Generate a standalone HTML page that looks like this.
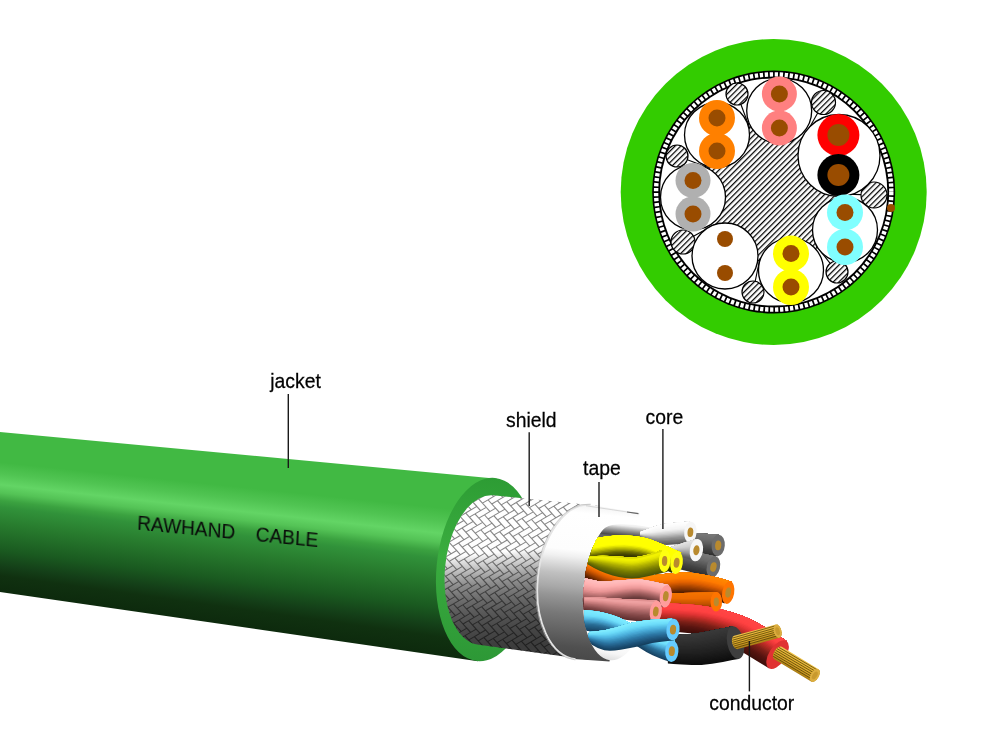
<!DOCTYPE html>
<html lang="en"><head><meta charset="utf-8"><title>RAWHAND CABLE</title>
<style>html,body{margin:0;padding:0;background:#fff;}body{width:1000px;height:750px;overflow:hidden;}svg{display:block;}</style>
</head><body>
<svg width="1000" height="750" viewBox="0 0 1000 750">
<defs>
<pattern id="hatch" width="4" height="4" patternUnits="userSpaceOnUse" patternTransform="rotate(-45)"><rect width="4" height="4" fill="#fff"/><rect width="4" height="1.25" fill="#000"/></pattern>
<clipPath id="jclip"><polygon points="0,432 497,478.67 478,661.17 0,592"/></clipPath>
<linearGradient id="jg0"><stop offset="0" stop-color="#41b943"/><stop offset="0.19" stop-color="#41b943"/><stop offset="0.26" stop-color="#50c452"/><stop offset="0.33" stop-color="#63d565"/><stop offset="0.38" stop-color="#54c356"/><stop offset="0.43" stop-color="#3ba240"/><stop offset="0.47" stop-color="#31923a"/><stop offset="0.575" stop-color="#287c2e"/><stop offset="0.74" stop-color="#1a5a20"/><stop offset="0.84" stop-color="#143f18"/><stop offset="0.9" stop-color="#103110"/><stop offset="1" stop-color="#0d2a0d"/></linearGradient>
<linearGradient id="jg1" href="#jg0" gradientUnits="userSpaceOnUse" x1="5" y1="432.47" x2="-13.9" y2="589.99"/>
<linearGradient id="jg2" href="#jg0" gradientUnits="userSpaceOnUse" x1="15" y1="433.41" x2="-3.96" y2="591.43"/>
<linearGradient id="jg3" href="#jg0" gradientUnits="userSpaceOnUse" x1="25" y1="434.35" x2="5.98" y2="592.87"/>
<linearGradient id="jg4" href="#jg0" gradientUnits="userSpaceOnUse" x1="35" y1="435.29" x2="15.92" y2="594.3"/>
<linearGradient id="jg5" href="#jg0" gradientUnits="userSpaceOnUse" x1="45" y1="436.23" x2="25.86" y2="595.74"/>
<linearGradient id="jg6" href="#jg0" gradientUnits="userSpaceOnUse" x1="55" y1="437.16" x2="35.8" y2="597.18"/>
<linearGradient id="jg7" href="#jg0" gradientUnits="userSpaceOnUse" x1="65" y1="438.1" x2="45.74" y2="598.62"/>
<linearGradient id="jg8" href="#jg0" gradientUnits="userSpaceOnUse" x1="75" y1="439.04" x2="55.68" y2="600.06"/>
<linearGradient id="jg9" href="#jg0" gradientUnits="userSpaceOnUse" x1="85" y1="439.98" x2="65.62" y2="601.49"/>
<linearGradient id="jg10" href="#jg0" gradientUnits="userSpaceOnUse" x1="95" y1="440.92" x2="75.56" y2="602.93"/>
<linearGradient id="jg11" href="#jg0" gradientUnits="userSpaceOnUse" x1="105" y1="441.86" x2="85.5" y2="604.37"/>
<linearGradient id="jg12" href="#jg0" gradientUnits="userSpaceOnUse" x1="115" y1="442.8" x2="95.44" y2="605.81"/>
<linearGradient id="jg13" href="#jg0" gradientUnits="userSpaceOnUse" x1="125" y1="443.74" x2="105.38" y2="607.25"/>
<linearGradient id="jg14" href="#jg0" gradientUnits="userSpaceOnUse" x1="135" y1="444.68" x2="115.32" y2="608.69"/>
<linearGradient id="jg15" href="#jg0" gradientUnits="userSpaceOnUse" x1="145" y1="445.62" x2="125.26" y2="610.12"/>
<linearGradient id="jg16" href="#jg0" gradientUnits="userSpaceOnUse" x1="155" y1="446.55" x2="135.2" y2="611.56"/>
<linearGradient id="jg17" href="#jg0" gradientUnits="userSpaceOnUse" x1="165" y1="447.49" x2="145.14" y2="613"/>
<linearGradient id="jg18" href="#jg0" gradientUnits="userSpaceOnUse" x1="175" y1="448.43" x2="155.08" y2="614.44"/>
<linearGradient id="jg19" href="#jg0" gradientUnits="userSpaceOnUse" x1="185" y1="449.37" x2="165.02" y2="615.88"/>
<linearGradient id="jg20" href="#jg0" gradientUnits="userSpaceOnUse" x1="195" y1="450.31" x2="174.96" y2="617.32"/>
<linearGradient id="jg21" href="#jg0" gradientUnits="userSpaceOnUse" x1="205" y1="451.25" x2="184.9" y2="618.75"/>
<linearGradient id="jg22" href="#jg0" gradientUnits="userSpaceOnUse" x1="215" y1="452.19" x2="194.84" y2="620.19"/>
<linearGradient id="jg23" href="#jg0" gradientUnits="userSpaceOnUse" x1="225" y1="453.13" x2="204.78" y2="621.63"/>
<linearGradient id="jg24" href="#jg0" gradientUnits="userSpaceOnUse" x1="235" y1="454.07" x2="214.72" y2="623.07"/>
<linearGradient id="jg25" href="#jg0" gradientUnits="userSpaceOnUse" x1="245" y1="455.01" x2="224.66" y2="624.51"/>
<linearGradient id="jg26" href="#jg0" gradientUnits="userSpaceOnUse" x1="255" y1="455.94" x2="234.6" y2="625.95"/>
<linearGradient id="jg27" href="#jg0" gradientUnits="userSpaceOnUse" x1="265" y1="456.88" x2="244.54" y2="627.38"/>
<linearGradient id="jg28" href="#jg0" gradientUnits="userSpaceOnUse" x1="275" y1="457.82" x2="254.48" y2="628.82"/>
<linearGradient id="jg29" href="#jg0" gradientUnits="userSpaceOnUse" x1="285" y1="458.76" x2="264.42" y2="630.26"/>
<linearGradient id="jg30" href="#jg0" gradientUnits="userSpaceOnUse" x1="295" y1="459.7" x2="274.36" y2="631.7"/>
<linearGradient id="jg31" href="#jg0" gradientUnits="userSpaceOnUse" x1="305" y1="460.64" x2="284.3" y2="633.14"/>
<linearGradient id="jg32" href="#jg0" gradientUnits="userSpaceOnUse" x1="315" y1="461.58" x2="294.24" y2="634.58"/>
<linearGradient id="jg33" href="#jg0" gradientUnits="userSpaceOnUse" x1="325" y1="462.52" x2="304.18" y2="636.01"/>
<linearGradient id="jg34" href="#jg0" gradientUnits="userSpaceOnUse" x1="335" y1="463.46" x2="314.12" y2="637.45"/>
<linearGradient id="jg35" href="#jg0" gradientUnits="userSpaceOnUse" x1="345" y1="464.4" x2="324.06" y2="638.89"/>
<linearGradient id="jg36" href="#jg0" gradientUnits="userSpaceOnUse" x1="355" y1="465.33" x2="334" y2="640.33"/>
<linearGradient id="jg37" href="#jg0" gradientUnits="userSpaceOnUse" x1="365" y1="466.27" x2="343.94" y2="641.77"/>
<linearGradient id="jg38" href="#jg0" gradientUnits="userSpaceOnUse" x1="375" y1="467.21" x2="353.88" y2="643.21"/>
<linearGradient id="jg39" href="#jg0" gradientUnits="userSpaceOnUse" x1="385" y1="468.15" x2="363.82" y2="644.64"/>
<linearGradient id="jg40" href="#jg0" gradientUnits="userSpaceOnUse" x1="395" y1="469.09" x2="373.76" y2="646.08"/>
<linearGradient id="jg41" href="#jg0" gradientUnits="userSpaceOnUse" x1="405" y1="470.03" x2="383.7" y2="647.52"/>
<linearGradient id="jg42" href="#jg0" gradientUnits="userSpaceOnUse" x1="415" y1="470.97" x2="393.64" y2="648.96"/>
<linearGradient id="jg43" href="#jg0" gradientUnits="userSpaceOnUse" x1="425" y1="471.91" x2="403.58" y2="650.4"/>
<linearGradient id="jg44" href="#jg0" gradientUnits="userSpaceOnUse" x1="435" y1="472.85" x2="413.52" y2="651.84"/>
<linearGradient id="jg45" href="#jg0" gradientUnits="userSpaceOnUse" x1="445" y1="473.79" x2="423.46" y2="653.27"/>
<linearGradient id="jg46" href="#jg0" gradientUnits="userSpaceOnUse" x1="455" y1="474.72" x2="433.4" y2="654.71"/>
<linearGradient id="jg47" href="#jg0" gradientUnits="userSpaceOnUse" x1="465" y1="475.66" x2="443.34" y2="656.15"/>
<linearGradient id="jg48" href="#jg0" gradientUnits="userSpaceOnUse" x1="475" y1="476.6" x2="453.28" y2="657.59"/>
<linearGradient id="jg49" href="#jg0" gradientUnits="userSpaceOnUse" x1="485" y1="477.54" x2="463.22" y2="659.03"/>
<linearGradient id="jg50" href="#jg0" gradientUnits="userSpaceOnUse" x1="495" y1="478.48" x2="473.16" y2="660.47"/>
<linearGradient id="rg" x1="0" y1="0" x2="0" y2="1"><stop offset="0" stop-color="#2d9c34"/><stop offset="0.45" stop-color="#3aad3f"/><stop offset="1" stop-color="#2d9836"/></linearGradient>
<linearGradient id="sg" gradientUnits="userSpaceOnUse" x1="488" y1="530" x2="498.6" y2="648"><stop offset="0" stop-color="#ffffff"/><stop offset="0.196" stop-color="#fdfdfd"/><stop offset="0.23" stop-color="#e8e8e8"/><stop offset="0.303" stop-color="#c8c8c8"/><stop offset="0.376" stop-color="#a8a8a8"/><stop offset="0.45" stop-color="#8c8c8c"/><stop offset="0.524" stop-color="#787878"/><stop offset="0.597" stop-color="#686868"/><stop offset="0.67" stop-color="#5c5c5c"/><stop offset="0.744" stop-color="#525252"/><stop offset="0.817" stop-color="#4a4a4a"/><stop offset="0.89" stop-color="#444444"/><stop offset="0.964" stop-color="#3e3e3e"/><stop offset="1" stop-color="#3c3c3c"/></linearGradient>
<clipPath id="sclip"><ellipse cx="486" cy="570" rx="41" ry="75" transform="rotate(5.6 486 570)"/><polygon points="493,495.3 600,506 590,660 479,644.7"/></clipPath>
<linearGradient id="tg" gradientUnits="userSpaceOnUse" x1="580" y1="505" x2="565" y2="660"><stop offset="0" stop-color="#f4f4f4"/><stop offset="0.05" stop-color="#fff"/><stop offset="0.29" stop-color="#fdfdfd"/><stop offset="0.335" stop-color="#f0f0f0"/><stop offset="0.39" stop-color="#d8d8d8"/><stop offset="0.445" stop-color="#c0c0c0"/><stop offset="0.535" stop-color="#a8a8a8"/><stop offset="0.587" stop-color="#969696"/><stop offset="0.7" stop-color="#787878"/><stop offset="0.806" stop-color="#646464"/><stop offset="0.91" stop-color="#505050"/><stop offset="1" stop-color="#484848"/></linearGradient>
<clipPath id="tclip"><ellipse cx="582.5" cy="582" rx="45.5" ry="77.4" transform="rotate(5.6 582.5 582)"/><polygon points="590,505 640,513 609.5,661.5 575,659"/></clipPath>
<clipPath id="trim"><polygon points="520,490 592,490 574,675 520,675"/></clipPath>
<linearGradient id="og" gradientUnits="userSpaceOnUse" x1="612" y1="640" x2="610" y2="661"><stop offset="0" stop-color="#fff"/><stop offset="0.6" stop-color="#f6f6f6"/><stop offset="1" stop-color="#dcdcdc"/></linearGradient>
<clipPath id="oclip"><ellipse cx="617" cy="589" rx="33.5" ry="71.5" transform="rotate(5.6 617 589)"/></clipPath>
<linearGradient id="shg" gradientUnits="userSpaceOnUse" x1="625" y1="522" x2="623.5" y2="537"><stop offset="0" stop-color="#fff"/><stop offset="0.25" stop-color="#ededed"/><stop offset="0.6" stop-color="#909090"/><stop offset="0.9" stop-color="#4c4c4c"/><stop offset="1" stop-color="#666"/></linearGradient>
<linearGradient id="cg1" x1="0" y1="0" x2="0" y2="1"><stop offset="0" stop-color="#f0c44a"/><stop offset="0.3" stop-color="#e4b432"/><stop offset="0.7" stop-color="#cf9e24"/><stop offset="1" stop-color="#a87c14"/></linearGradient>
<linearGradient id="cg2" x1="0" y1="0" x2="0" y2="1"><stop offset="0" stop-color="#f0c44a"/><stop offset="0.3" stop-color="#e4b432"/><stop offset="0.7" stop-color="#cf9e24"/><stop offset="1" stop-color="#a87c14"/></linearGradient>
<clipPath id="wclip"><ellipse cx="617" cy="589" rx="33.5" ry="71.5" transform="rotate(5.6 617 589)"/><polygon points="624,517.8 900,480 900,720 610,660.2"/></clipPath>
</defs>
<circle cx="773.7" cy="192.0" r="153" fill="#33cc00"/>
<circle cx="773.7" cy="192.0" r="121.5" fill="#000"/>
<circle cx="773.7" cy="192.0" r="117.6" fill="none" stroke="#fff" stroke-width="4.4" stroke-dasharray="3.3 1.7"/>
<circle cx="773.7" cy="192.0" r="113.6" fill="#fff"/>
<polygon points="717,135 779.2,110.8 839,155.5 845,230 791,270.3 725,256 693,197.3" fill="url(#hatch)"/>
<line x1="740.86" y1="104.3" x2="749.85" y2="128.32" stroke="#000" stroke-width="1.1"/>
<circle cx="737" cy="94" r="11" fill="url(#hatch)" stroke="#000" stroke-width="1.2"/>
<line x1="817.67" y1="112.99" x2="806.76" y2="132.58" stroke="#000" stroke-width="1.1"/>
<circle cx="823.5" cy="102.5" r="12" fill="url(#hatch)" stroke="#000" stroke-width="1.2"/>
<line x1="861.01" y1="194.61" x2="841.67" y2="194.03" stroke="#000" stroke-width="1.1"/>
<circle cx="874" cy="195" r="13" fill="url(#hatch)" stroke="#000" stroke-width="1.2"/>
<line x1="830.17" y1="263.37" x2="815.89" y2="245.33" stroke="#000" stroke-width="1.1"/>
<circle cx="837" cy="272" r="11" fill="url(#hatch)" stroke="#000" stroke-width="1.2"/>
<line x1="755.23" y1="281.23" x2="759.92" y2="258.59" stroke="#000" stroke-width="1.1"/>
<circle cx="753" cy="292" r="11" fill="url(#hatch)" stroke="#000" stroke-width="1.2"/>
<line x1="693.51" y1="236.21" x2="714.15" y2="224.83" stroke="#000" stroke-width="1.1"/>
<circle cx="683" cy="242" r="12" fill="url(#hatch)" stroke="#000" stroke-width="1.2"/>
<line x1="687.31" y1="159.84" x2="709.97" y2="168.28" stroke="#000" stroke-width="1.1"/>
<circle cx="677" cy="156" r="11" fill="url(#hatch)" stroke="#000" stroke-width="1.2"/>
<circle cx="717" cy="135" r="32.5" fill="#fff" stroke="#000" stroke-width="1.3"/>
<circle cx="779.2" cy="110.8" r="32.5" fill="#fff" stroke="#000" stroke-width="1.3"/>
<circle cx="839" cy="155.5" r="41" fill="#fff" stroke="#000" stroke-width="1.3"/>
<circle cx="845" cy="230" r="32.5" fill="#fff" stroke="#000" stroke-width="1.3"/>
<circle cx="791" cy="270.3" r="32.5" fill="#fff" stroke="#000" stroke-width="1.3"/>
<circle cx="725" cy="256" r="33" fill="#fff" stroke="#000" stroke-width="1.3"/>
<circle cx="693" cy="197.3" r="32.5" fill="#fff" stroke="#000" stroke-width="1.3"/>
<circle cx="717" cy="118.0" r="18" fill="#ff8000"/>
<circle cx="717" cy="151.0" r="18" fill="#ff8000"/>
<circle cx="717" cy="118.0" r="8.5" fill="#994c00"/>
<circle cx="717" cy="151.0" r="8.5" fill="#994c00"/>
<circle cx="779.4" cy="94" r="17.5" fill="#ff8080"/>
<circle cx="779.4" cy="128" r="17.5" fill="#ff8080"/>
<circle cx="779.4" cy="94" r="8.5" fill="#994c00"/>
<circle cx="779.4" cy="128" r="8.5" fill="#994c00"/>
<circle cx="838.4" cy="135" r="21" fill="#ff0000"/>
<circle cx="838.4" cy="175" r="21" fill="#000"/>
<circle cx="838.4" cy="135" r="11" fill="#994c00"/>
<circle cx="838.4" cy="175" r="11" fill="#994c00"/>
<circle cx="845" cy="212.39999999999998" r="18" fill="#80ffff"/>
<circle cx="845" cy="247.0" r="18" fill="#80ffff"/>
<circle cx="845" cy="212.39999999999998" r="8.5" fill="#994c00"/>
<circle cx="845" cy="247.0" r="8.5" fill="#994c00"/>
<circle cx="791" cy="253.60000000000002" r="18" fill="#ffff00"/>
<circle cx="791" cy="287.0" r="18" fill="#ffff00"/>
<circle cx="791" cy="253.60000000000002" r="8.5" fill="#994c00"/>
<circle cx="791" cy="287.0" r="8.5" fill="#994c00"/>
<circle cx="725" cy="239" r="0" fill="#fff"/>
<circle cx="725" cy="273" r="0" fill="#fff"/>
<circle cx="725" cy="239" r="8" fill="#994c00"/>
<circle cx="725" cy="273" r="8" fill="#994c00"/>
<circle cx="693" cy="180.39999999999998" r="17.5" fill="#b0b0b0"/>
<circle cx="693" cy="214.0" r="17.5" fill="#b0b0b0"/>
<circle cx="693" cy="180.39999999999998" r="8.5" fill="#994c00"/>
<circle cx="693" cy="214.0" r="8.5" fill="#994c00"/>
<circle cx="891" cy="208" r="4" fill="#994c00"/>
<g clip-path="url(#jclip)" shape-rendering="crispEdges">
<rect x="0" y="430" width="10" height="165.45" fill="url(#jg1)"/>
<rect x="10" y="430.94" width="10" height="165.95" fill="url(#jg2)"/>
<rect x="20" y="431.88" width="10" height="166.46" fill="url(#jg3)"/>
<rect x="30" y="432.82" width="10" height="166.97" fill="url(#jg4)"/>
<rect x="40" y="433.76" width="10" height="167.48" fill="url(#jg5)"/>
<rect x="50" y="434.69" width="10" height="167.99" fill="url(#jg6)"/>
<rect x="60" y="435.63" width="10" height="168.5" fill="url(#jg7)"/>
<rect x="70" y="436.57" width="10" height="169" fill="url(#jg8)"/>
<rect x="80" y="437.51" width="10" height="169.51" fill="url(#jg9)"/>
<rect x="90" y="438.45" width="10" height="170.02" fill="url(#jg10)"/>
<rect x="100" y="439.39" width="10" height="170.53" fill="url(#jg11)"/>
<rect x="110" y="440.33" width="10" height="171.04" fill="url(#jg12)"/>
<rect x="120" y="441.27" width="10" height="171.54" fill="url(#jg13)"/>
<rect x="130" y="442.21" width="10" height="172.05" fill="url(#jg14)"/>
<rect x="140" y="443.15" width="10" height="172.56" fill="url(#jg15)"/>
<rect x="150" y="444.08" width="10" height="173.07" fill="url(#jg16)"/>
<rect x="160" y="445.02" width="10" height="173.58" fill="url(#jg17)"/>
<rect x="170" y="445.96" width="10" height="174.08" fill="url(#jg18)"/>
<rect x="180" y="446.9" width="10" height="174.59" fill="url(#jg19)"/>
<rect x="190" y="447.84" width="10" height="175.1" fill="url(#jg20)"/>
<rect x="200" y="448.78" width="10" height="175.61" fill="url(#jg21)"/>
<rect x="210" y="449.72" width="10" height="176.11" fill="url(#jg22)"/>
<rect x="220" y="450.66" width="10" height="176.62" fill="url(#jg23)"/>
<rect x="230" y="451.6" width="10" height="177.13" fill="url(#jg24)"/>
<rect x="240" y="452.54" width="10" height="177.64" fill="url(#jg25)"/>
<rect x="250" y="453.48" width="10" height="178.15" fill="url(#jg26)"/>
<rect x="260" y="454.41" width="10" height="178.65" fill="url(#jg27)"/>
<rect x="270" y="455.35" width="10" height="179.16" fill="url(#jg28)"/>
<rect x="280" y="456.29" width="10" height="179.67" fill="url(#jg29)"/>
<rect x="290" y="457.23" width="10" height="180.18" fill="url(#jg30)"/>
<rect x="300" y="458.17" width="10" height="180.69" fill="url(#jg31)"/>
<rect x="310" y="459.11" width="10" height="181.19" fill="url(#jg32)"/>
<rect x="320" y="460.05" width="10" height="181.7" fill="url(#jg33)"/>
<rect x="330" y="460.99" width="10" height="182.21" fill="url(#jg34)"/>
<rect x="340" y="461.93" width="10" height="182.72" fill="url(#jg35)"/>
<rect x="350" y="462.87" width="10" height="183.23" fill="url(#jg36)"/>
<rect x="360" y="463.8" width="10" height="183.74" fill="url(#jg37)"/>
<rect x="370" y="464.74" width="10" height="184.24" fill="url(#jg38)"/>
<rect x="380" y="465.68" width="10" height="184.75" fill="url(#jg39)"/>
<rect x="390" y="466.62" width="10" height="185.26" fill="url(#jg40)"/>
<rect x="400" y="467.56" width="10" height="185.77" fill="url(#jg41)"/>
<rect x="410" y="468.5" width="10" height="186.27" fill="url(#jg42)"/>
<rect x="420" y="469.44" width="10" height="186.78" fill="url(#jg43)"/>
<rect x="430" y="470.38" width="10" height="187.29" fill="url(#jg44)"/>
<rect x="440" y="471.32" width="10" height="187.8" fill="url(#jg45)"/>
<rect x="450" y="472.25" width="10" height="188.31" fill="url(#jg46)"/>
<rect x="460" y="473.19" width="10" height="188.81" fill="url(#jg47)"/>
<rect x="470" y="474.13" width="10" height="189.32" fill="url(#jg48)"/>
<rect x="480" y="475.07" width="10" height="189.83" fill="url(#jg49)"/>
<rect x="490" y="476.01" width="10" height="190.34" fill="url(#jg50)"/>
</g>
<ellipse cx="486" cy="569.5" rx="49.5" ry="92" transform="rotate(5.6 486 569.5)" fill="url(#rg)"/>
<g clip-path="url(#sclip)"><rect x="430" y="480" width="200" height="200" fill="url(#sg)"/>
<path transform="matrix(-5.6 3.3 3.8 4.2 500 570)" d="M-2 -17v-1h2M-3 -17v-2h1M-3 -16v-1h2M-1 -15v-2h1M-1 -14v-1h2M1 -13v-2h1M1 -12v-1h2M3 -10v-1h2M-4 -16v-2h1M-4 -15v-1h2M-2 -14v-2h1M-2 -13v-1h2M0 -12v-2h1M0 -11v-1h2M2 -10v-2h1M2 -9v-1h2M4 -8v-2h1M4 -7v-1h2M6 -6v-2h1M6 -5v-1h2M8 -3v-1h2M-5 -15v-2h1M-5 -14v-1h2M-3 -13v-2h1M-3 -12v-1h2M-1 -11v-2h1M-1 -10v-1h2M1 -9v-2h1M1 -8v-1h2M3 -7v-2h1M3 -6v-1h2M5 -5v-2h1M5 -4v-1h2M7 -3v-2h1M7 -2v-1h2M9 -1v-2h1M9 0v-1h2M11 2v-1h2M-6 -14v-2h1M-6 -13v-1h2M-4 -12v-2h1M-4 -11v-1h2M-2 -10v-2h1M-2 -9v-1h2M0 -8v-2h1M0 -7v-1h2M2 -6v-2h1M2 -5v-1h2M4 -4v-2h1M4 -3v-1h2M6 -2v-2h1M6 -1v-1h2M8 0v-2h1M8 1v-1h2M10 2v-2h1M10 3v-1h2M12 4v-2h1M12 5v-1h2M14 6v-2h1M14 7v-1h2M16 9v-1h2M-7 -13v-2h1M-7 -12v-1h2M-5 -11v-2h1M-5 -10v-1h2M-3 -9v-2h1M-3 -8v-1h2M-1 -7v-2h1M-1 -6v-1h2M1 -5v-2h1M1 -4v-1h2M3 -3v-2h1M3 -2v-1h2M5 -1v-2h1M5 0v-1h2M7 1v-2h1M7 2v-1h2M9 3v-2h1M9 4v-1h2M11 5v-2h1M11 6v-1h2M13 7v-2h1M13 8v-1h2M15 9v-2h1M15 10v-1h2M-8 -12v-2h1M-8 -11v-1h2M-6 -10v-2h1M-6 -9v-1h2M-4 -8v-2h1M-4 -7v-1h2M-2 -6v-2h1M-2 -5v-1h2M0 -4v-2h1M0 -3v-1h2M2 -2v-2h1M2 -1v-1h2M4 0v-2h1M4 1v-1h2M6 2v-2h1M6 3v-1h2M8 4v-2h1M8 5v-1h2M10 6v-2h1M10 7v-1h2M12 8v-2h1M12 9v-1h2M14 10v-2h1M14 11v-1h2M-9 -11v-2h1M-9 -10v-1h2M-7 -9v-2h1M-7 -8v-1h2M-5 -7v-2h1M-5 -6v-1h2M-3 -5v-2h1M-3 -4v-1h2M-1 -3v-2h1M-1 -2v-1h2M1 -1v-2h1M1 0v-1h2M3 1v-2h1M3 2v-1h2M5 3v-2h1M5 4v-1h2M7 5v-2h1M7 6v-1h2M9 7v-2h1M9 8v-1h2M11 9v-2h1M11 10v-1h2M13 11v-2h1M13 12v-1h2M-10 -10v-2h1M-10 -9v-1h2M-8 -8v-2h1M-8 -7v-1h2M-6 -6v-2h1M-6 -5v-1h2M-4 -4v-2h1M-4 -3v-1h2M-2 -2v-2h1M-2 -1v-1h2M0 0v-2h1M0 1v-1h2M2 2v-2h1M2 3v-1h2M4 4v-2h1M4 5v-1h2M6 6v-2h1M6 7v-1h2M8 8v-2h1M8 9v-1h2M10 10v-2h1M10 11v-1h2M12 12v-2h1M12 13v-1h2M-13 -10v-1h2M-11 -9v-2h1M-11 -8v-1h2M-9 -7v-2h1M-9 -6v-1h2M-7 -5v-2h1M-7 -4v-1h2M-5 -3v-2h1M-5 -2v-1h2M-3 -1v-2h1M-3 0v-1h2M-1 1v-2h1M-1 2v-1h2M1 3v-2h1M1 4v-1h2M3 5v-2h1M3 6v-1h2M5 7v-2h1M5 8v-1h2M7 9v-2h1M7 10v-1h2M9 11v-2h1M9 12v-1h2M11 13v-2h1M11 14v-1h2M-14 -9v-1h2M-12 -8v-2h1M-12 -7v-1h2M-10 -6v-2h1M-10 -5v-1h2M-8 -4v-2h1M-8 -3v-1h2M-6 -2v-2h1M-6 -1v-1h2M-4 0v-2h1M-4 1v-1h2M-2 2v-2h1M-2 3v-1h2M0 4v-2h1M0 5v-1h2M2 6v-2h1M2 7v-1h2M4 8v-2h1M4 9v-1h2M6 10v-2h1M6 11v-1h2M8 12v-2h1M8 13v-1h2M10 14v-2h1M10 15v-1h2M-15 -8v-1h2M-13 -7v-2h1M-13 -6v-1h2M-11 -5v-2h1M-11 -4v-1h2M-9 -3v-2h1M-9 -2v-1h2M-7 -1v-2h1M-7 0v-1h2M-5 1v-2h1M-5 2v-1h2M-3 3v-2h1M-3 4v-1h2M-1 5v-2h1M-1 6v-1h2M1 7v-2h1M1 8v-1h2M3 9v-2h1M3 10v-1h2M5 11v-2h1M5 12v-1h2M7 13v-2h1M7 14v-1h2M9 15v-2h1M-16 -7v-1h2M-14 -6v-2h1M-14 -5v-1h2M-12 -4v-2h1M-12 -3v-1h2M-10 -2v-2h1M-10 -1v-1h2M-8 0v-2h1M-8 1v-1h2M-6 2v-2h1M-6 3v-1h2M-4 4v-2h1M-4 5v-1h2M-2 6v-2h1M-2 7v-1h2M0 8v-2h1M0 9v-1h2M2 10v-2h1M2 11v-1h2M4 12v-2h1M4 13v-1h2M6 14v-2h1M6 15v-1h2M8 16v-2h1M-17 -6v-1h2M-15 -5v-2h1M-15 -4v-1h2M-13 -3v-2h1M-13 -2v-1h2M-11 -1v-2h1M-11 0v-1h2M-9 1v-2h1M-9 2v-1h2M-7 3v-2h1M-7 4v-1h2M-5 5v-2h1M-5 6v-1h2M-3 7v-2h1M-3 8v-1h2M-1 9v-2h1M-1 10v-1h2M1 11v-2h1M1 12v-1h2M3 13v-2h1M3 14v-1h2M5 15v-2h1M5 16v-1h2M7 17v-2h1M-18 -5v-1h2M-16 -4v-2h1M-16 -3v-1h2M-14 -2v-2h1M-14 -1v-1h2M-12 0v-2h1M-12 1v-1h2M-10 2v-2h1M-10 3v-1h2M-8 4v-2h1M-8 5v-1h2M-6 6v-2h1M-6 7v-1h2M-4 8v-2h1M-4 9v-1h2M-2 10v-2h1M-2 11v-1h2M0 12v-2h1M0 13v-1h2M2 14v-2h1M2 15v-1h2M4 16v-2h1M4 17v-1h2M6 18v-2h1M-19 -4v-1h2M-17 -3v-2h1M-17 -2v-1h2M-15 -1v-2h1M-15 0v-1h2M-13 1v-2h1M-13 2v-1h2M-11 3v-2h1M-11 4v-1h2M-9 5v-2h1M-9 6v-1h2M-7 7v-2h1M-7 8v-1h2M-5 9v-2h1M-5 10v-1h2M-3 11v-2h1M-3 12v-1h2M-1 13v-2h1M-1 14v-1h2M1 15v-2h1M1 16v-1h2M3 17v-2h1M3 18v-1h2M5 19v-2h1M-20 -3v-1h2M-18 -2v-2h1M-18 -1v-1h2M-16 0v-2h1M-16 1v-1h2M-14 2v-2h1M-14 3v-1h2M-12 4v-2h1M-12 5v-1h2M-10 6v-2h1M-10 7v-1h2M-8 8v-2h1M-8 9v-1h2M-6 10v-2h1M-6 11v-1h2M-4 12v-2h1M-4 13v-1h2M-2 14v-2h1M-2 15v-1h2M0 16v-2h1M0 17v-1h2M2 18v-2h1M2 19v-1h2M4 20v-2h1M-21 -2v-1h2M-19 -1v-2h1M-19 0v-1h2M-17 1v-2h1M-17 2v-1h2M-15 3v-2h1M-15 4v-1h2M-13 5v-2h1M-13 6v-1h2M-11 7v-2h1M-11 8v-1h2M-9 9v-2h1M-9 10v-1h2M-7 11v-2h1M-7 12v-1h2M-5 13v-2h1M-5 14v-1h2M-3 15v-2h1M-3 16v-1h2M-1 17v-2h1M-1 18v-1h2M1 19v-2h1M1 20v-1h2M3 21v-2h1M-20 0v-2h1M-18 2v-2h1M-18 3v-1h2M-16 4v-2h1M-16 5v-1h2M-14 6v-2h1M-14 7v-1h2M-12 8v-2h1M-12 9v-1h2M-10 10v-2h1M-10 11v-1h2M-8 12v-2h1M-8 13v-1h2M-6 14v-2h1M-6 15v-1h2M-4 16v-2h1M-4 17v-1h2M-2 18v-2h1M-2 19v-1h2M0 20v-2h1M0 21v-1h2M2 22v-2h1M-15 7v-2h1M-13 9v-2h1M-13 10v-1h2M-11 11v-2h1M-11 12v-1h2M-9 13v-2h1M-9 14v-1h2M-7 15v-2h1M-7 16v-1h2M-5 17v-2h1M-5 18v-1h2M-3 19v-2h1M-3 20v-1h2M-1 21v-2h1M-1 22v-1h2M1 23v-2h1M-10 14v-2h1M-10 15v-1h2M-8 16v-2h1M-8 17v-1h2M-6 18v-2h1M-6 19v-1h2M-4 20v-2h1M-4 21v-1h2M-2 22v-2h1M-2 23v-1h2M-7 19v-2h1M-5 21v-2h1M-5 22v-1h2M-3 23v-2h1M-3 24v-1h2" fill="none" stroke="#000" stroke-opacity="0.47" stroke-width="0.18"/></g>
<g clip-path="url(#tclip)"><rect x="530" y="495" width="130" height="180" fill="url(#tg)"/></g>
<g clip-path="url(#trim)"><ellipse cx="583.2" cy="582" rx="45.5" ry="77.4" transform="rotate(5.6 583.2 582)" fill="none" stroke="#e4e4e4" stroke-width="1.8"/><ellipse cx="582.5" cy="582" rx="46.4" ry="78.2" transform="rotate(5.6 582.5 582)" fill="none" stroke="#b4b4b4" stroke-width="0.6"/></g>
<ellipse cx="617" cy="589" rx="33.5" ry="71.5" transform="rotate(5.6 617 589)" fill="url(#og)"/>
<path d="M586 505.8L638 513.6" stroke="#aaa" stroke-width="0.9" fill="none" stroke-opacity="0.45"/><path d="M627 512L638.5 513.7" stroke="#666" stroke-width="1.2" fill="none"/>
<g id="wires" clip-path="url(#wclip)"><path d="M596 541C599 531 605 525.5 616 524.5C632 523 650 527 668 531L650 542z" fill="url(#shg)"/>
<path d="M684.7 532.5L694.9 533.1L708.8 534L719 534.6L717.4 556.2L707.3 555.4L693.4 554.3L683.3 553.5z" fill="#303030"/>
<path d="M684.7 532.5L694.9 533.1L708.8 534L719 534.6L717.5 554.9L707.4 554.1L693.5 553L683.4 552.2z" fill="#343434"/>
<path d="M684.7 532.5L694.9 533.1L708.8 534L719 534.6L717.6 553.6L707.5 552.9L693.6 551.8L683.4 551z" fill="#393939"/>
<path d="M684.7 532.5L694.9 533.1L708.8 534L719 534.6L717.7 552.4L707.6 551.6L693.7 550.5L683.5 549.8z" fill="#3d3d3d"/>
<path d="M684.7 532.5L694.9 533.1L708.8 534L719 534.6L717.8 551.1L707.7 550.3L693.7 549.3L683.6 548.5z" fill="#414141"/>
<path d="M684.7 532.5L694.9 533.1L708.8 534L719 534.6L717.9 549.8L707.8 549.1L693.8 548.1L683.7 547.3z" fill="#464646"/>
<path d="M684.7 532.5L694.9 533.1L708.8 534L719 534.6L718 548.6L707.8 547.8L693.9 546.8L683.8 546.1z" fill="#4c4c4c"/>
<path d="M684.7 532.5L694.9 533.1L708.8 534L719 534.6L718.1 547.3L707.9 546.6L694 545.6L683.9 544.8z" fill="#515151"/>
<path d="M684.7 532.5L694.9 533.1L708.8 534L719 534.6L718.2 546L708 545.3L694.1 544.3L684 543.6z" fill="#575757"/>
<path d="M684.7 532.5L694.9 533.1L708.8 534L719 534.6L718.2 544.8L708.1 544.1L694.2 543.1L684 542.4z" fill="#5d5d5d"/>
<path d="M684.7 532.5L694.9 533.1L708.8 534L719 534.6L718.3 543.5L708.2 542.8L694.3 541.8L684.1 541.2z" fill="#626262"/>
<path d="M684.7 532.5L694.9 533.1L708.8 534L719 534.6L718.4 542.2L708.3 541.5L694.4 540.6L684.2 539.9z" fill="#686868"/>
<path d="M684.7 532.5L694.9 533.1L708.8 534L719 534.6L718.5 541L708.4 540.3L694.4 539.4L684.3 538.7z" fill="#6c6c6c"/>
<path d="M684.7 532.5L694.9 533.1L708.8 534L719 534.6L718.6 539.7L708.5 539L694.5 538.1L684.4 537.5z" fill="#6f6f6f"/>
<path d="M684.7 532.5L694.9 533.1L708.8 534L719 534.6L718.7 538.4L708.6 537.8L694.6 536.9L684.5 536.2z" fill="#727272"/>
<path d="M684.7 532.5L694.9 533.1L708.8 534L719 534.6L718.8 537.2L708.6 536.5L694.7 535.6L684.6 535z" fill="#757575"/>
<path d="M684.7 532.5L694.9 533.1L708.8 534L719 534.6L718.9 535.9L708.7 535.3L694.8 534.4L684.6 533.8z" fill="#787878"/>
<ellipse cx="718.2" cy="545.4" rx="6.6" ry="10.8" transform="rotate(4 718.2 545.4)" fill="#6c6c6c"/><ellipse cx="718.2" cy="545.4" rx="3.1" ry="4.9" transform="rotate(4 718.2 545.4)" fill="#b98a2e"/>
<path d="M678.3 548.3L689.5 550.7L704.8 554.1L715.9 556.5L710.9 577.5L699.8 574.6L684.7 570.6L673.7 567.7z" fill="#303030"/>
<path d="M678.3 548.3L689.5 550.7L704.8 554.1L715.9 556.5L711.2 576.3L700.1 573.4L685 569.4L673.9 566.6z" fill="#343434"/>
<path d="M678.3 548.3L689.5 550.7L704.8 554.1L715.9 556.5L711.5 575L700.4 572.2L685.2 568.3L674.2 565.4z" fill="#393939"/>
<path d="M678.3 548.3L689.5 550.7L704.8 554.1L715.9 556.5L711.8 573.8L700.7 571L685.5 567.1L674.5 564.3z" fill="#3d3d3d"/>
<path d="M678.3 548.3L689.5 550.7L704.8 554.1L715.9 556.5L712.1 572.6L701 569.8L685.8 565.9L674.8 563.1z" fill="#414141"/>
<path d="M678.3 548.3L689.5 550.7L704.8 554.1L715.9 556.5L712.4 571.3L701.3 568.6L686.1 564.8L675 562z" fill="#464646"/>
<path d="M678.3 548.3L689.5 550.7L704.8 554.1L715.9 556.5L712.7 570.1L701.6 567.4L686.4 563.6L675.3 560.9z" fill="#4c4c4c"/>
<path d="M678.3 548.3L689.5 550.7L704.8 554.1L715.9 556.5L713 568.9L701.9 566.1L686.7 562.4L675.6 559.7z" fill="#515151"/>
<path d="M678.3 548.3L689.5 550.7L704.8 554.1L715.9 556.5L713.3 567.6L702.2 564.9L686.9 561.3L675.9 558.6z" fill="#575757"/>
<path d="M678.3 548.3L689.5 550.7L704.8 554.1L715.9 556.5L713.5 566.4L702.5 563.7L687.2 560.1L676.1 557.4z" fill="#5d5d5d"/>
<path d="M678.3 548.3L689.5 550.7L704.8 554.1L715.9 556.5L713.8 565.1L702.8 562.5L687.5 558.9L676.4 556.3z" fill="#626262"/>
<path d="M678.3 548.3L689.5 550.7L704.8 554.1L715.9 556.5L714.1 563.9L703 561.3L687.8 557.7L676.7 555.1z" fill="#686868"/>
<path d="M678.3 548.3L689.5 550.7L704.8 554.1L715.9 556.5L714.4 562.7L703.3 560.1L688.1 556.6L677 554z" fill="#6c6c6c"/>
<path d="M678.3 548.3L689.5 550.7L704.8 554.1L715.9 556.5L714.7 561.4L703.6 558.9L688.3 555.4L677.2 552.9z" fill="#6f6f6f"/>
<path d="M678.3 548.3L689.5 550.7L704.8 554.1L715.9 556.5L715 560.2L703.9 557.7L688.6 554.2L677.5 551.7z" fill="#727272"/>
<path d="M678.3 548.3L689.5 550.7L704.8 554.1L715.9 556.5L715.3 559L704.2 556.5L688.9 553.1L677.8 550.6z" fill="#757575"/>
<path d="M678.3 548.3L689.5 550.7L704.8 554.1L715.9 556.5L715.6 557.7L704.5 555.3L689.2 551.9L678.1 549.4z" fill="#787878"/>
<ellipse cx="713.4" cy="567" rx="6.6" ry="10.8" transform="rotate(13.5 713.4 567)" fill="#6c6c6c"/><ellipse cx="713.4" cy="567" rx="3.1" ry="4.9" transform="rotate(13.5 713.4 567)" fill="#b98a2e"/>
<path d="M640.2 532.1L645.5 530L652 527.4L657.5 525.4L665.1 523.7L678.2 522.5L689.5 521.6L691.3 542.8L680 543.9L666.9 544.9L659 544.6L652 543.4L644.8 540.1L639.8 537.1z" fill="#5d5d5d"/>
<path d="M640.2 532.1L645.5 530L652 527.4L657.5 525.4L665.1 523.7L678.2 522.5L689.5 521.6L691.2 541.5L679.9 542.6L666.8 543.6L658.9 543.5L652 542.5L644.8 539.5L639.8 536.8z" fill="#676767"/>
<path d="M640.2 532.1L645.5 530L652 527.4L657.5 525.4L665.1 523.7L678.2 522.5L689.5 521.6L691.1 540.3L679.8 541.4L666.7 542.4L658.8 542.4L652 541.5L644.9 539L639.8 536.5z" fill="#717171"/>
<path d="M640.2 532.1L645.5 530L652 527.4L657.5 525.4L665.1 523.7L678.2 522.5L689.5 521.6L691 539L679.7 540.1L666.6 541.1L658.7 541.3L652 540.6L644.9 538.4L639.9 536.2z" fill="#7e7e7e"/>
<path d="M640.2 532.1L645.5 530L652 527.4L657.5 525.4L665.1 523.7L678.2 522.5L689.5 521.6L690.9 537.8L679.6 538.9L666.5 539.9L658.6 540.1L652 539.6L644.9 537.8L639.9 535.9z" fill="#8b8b8b"/>
<path d="M640.2 532.1L645.5 530L652 527.4L657.5 525.4L665.1 523.7L678.2 522.5L689.5 521.6L690.8 536.5L679.5 537.6L666.4 538.6L658.5 539L652 538.7L645 537.2L639.9 535.6z" fill="#989898"/>
<path d="M640.2 532.1L645.5 530L652 527.4L657.5 525.4L665.1 523.7L678.2 522.5L689.5 521.6L690.7 535.3L679.3 536.3L666.3 537.4L658.4 537.9L652 537.8L645 536.6L639.9 535.3z" fill="#a8a8a8"/>
<path d="M640.2 532.1L645.5 530L652 527.4L657.5 525.4L665.1 523.7L678.2 522.5L689.5 521.6L690.6 534.1L679.2 535.1L666.2 536.2L658.4 536.7L652 536.8L645.1 536L640 535z" fill="#b9b9b9"/>
<path d="M640.2 532.1L645.5 530L652 527.4L657.5 525.4L665.1 523.7L678.2 522.5L689.5 521.6L690.5 532.8L679.1 533.8L666.1 534.9L658.3 535.6L652 535.9L645.1 535.4L640 534.7z" fill="#c9c9c9"/>
<path d="M640.2 532.1L645.5 530L652 527.4L657.5 525.4L665.1 523.7L678.2 522.5L689.5 521.6L690.3 531.6L679 532.6L665.9 533.7L658.2 534.5L652 534.9L645.1 534.8L640 534.5z" fill="#d7d7d7"/>
<path d="M640.2 532.1L645.5 530L652 527.4L657.5 525.4L665.1 523.7L678.2 522.5L689.5 521.6L690.2 530.3L678.9 531.3L665.8 532.4L658.1 533.3L652 534L645.2 534.2L640 534.2z" fill="#e3e3e3"/>
<path d="M640.2 532.1L645.5 530L652 527.4L657.5 525.4L665.1 523.7L678.2 522.5L689.5 521.6L690.1 529.1L678.8 530L665.7 531.2L658 532.2L652 533L645.2 533.6L640.1 533.9z" fill="#efefef"/>
<path d="M640.2 532.1L645.5 530L652 527.4L657.5 525.4L665.1 523.7L678.2 522.5L689.5 521.6L690 527.9L678.7 528.8L665.6 530L657.9 531.1L652 532.1L645.3 533L640.1 533.6z" fill="#f5f5f5"/>
<path d="M640.2 532.1L645.5 530L652 527.4L657.5 525.4L665.1 523.7L678.2 522.5L689.5 521.6L689.9 526.6L678.6 527.5L665.5 528.7L657.8 529.9L652 531.2L645.3 532.4L640.1 533.3z" fill="#f7f7f7"/>
<path d="M640.2 532.1L645.5 530L652 527.4L657.5 525.4L665.1 523.7L678.2 522.5L689.5 521.6L689.8 525.4L678.5 526.2L665.4 527.5L657.7 528.8L652 530.2L645.3 531.8L640.1 533z" fill="#fafafa"/>
<path d="M640.2 532.1L645.5 530L652 527.4L657.5 525.4L665.1 523.7L678.2 522.5L689.5 521.6L689.7 524.1L678.4 525L665.3 526.2L657.6 527.7L652 529.3L645.4 531.2L640.2 532.7z" fill="#fcfcfc"/>
<path d="M640.2 532.1L645.5 530L652 527.4L657.5 525.4L665.1 523.7L678.2 522.5L689.5 521.6L689.6 522.9L678.3 523.7L665.2 525L657.6 526.5L652 528.3L645.4 530.6L640.2 532.4z" fill="#fefefe"/>
<ellipse cx="690.4" cy="532.2" rx="6.2" ry="10.6" transform="rotate(5 690.4 532.2)" fill="#f6f6f6"/><ellipse cx="690.4" cy="532.2" rx="2.9" ry="4.8" transform="rotate(5 690.4 532.2)" fill="#b98a2e"/>
<path d="M669.9 547.6L673.6 546.3L678.8 544.5L683.9 542.8L688.6 541.3L693.2 539.9L696.3 539L696.5 561.4L693.3 560.5L688.8 559.2L684.1 557.8L679.1 556.3L673.8 554.7L670.1 553.6z" fill="#5a5a5a"/>
<path d="M669.9 547.6L673.6 546.3L678.8 544.5L683.9 542.8L688.6 541.3L693.2 539.9L696.3 539L696.5 560.1L693.3 559.3L688.8 558.1L684.1 556.9L679 555.6L673.8 554.2L670.1 553.2z" fill="#636363"/>
<path d="M669.9 547.6L673.6 546.3L678.8 544.5L683.9 542.8L688.6 541.3L693.2 539.9L696.3 539L696.5 558.8L693.3 558.1L688.8 557.1L684.1 556L679 554.9L673.8 553.7L670.1 552.9z" fill="#6c6c6c"/>
<path d="M669.9 547.6L673.6 546.3L678.8 544.5L683.9 542.8L688.6 541.3L693.2 539.9L696.3 539L696.4 557.4L693.3 556.9L688.8 556L684.1 555.2L679 554.2L673.8 553.2L670 552.5z" fill="#787878"/>
<path d="M669.9 547.6L673.6 546.3L678.8 544.5L683.9 542.8L688.6 541.3L693.2 539.9L696.3 539L696.4 556.1L693.3 555.7L688.8 555L684.1 554.3L679 553.5L673.7 552.7L670 552.2z" fill="#848484"/>
<path d="M669.9 547.6L673.6 546.3L678.8 544.5L683.9 542.8L688.6 541.3L693.2 539.9L696.3 539L696.4 554.8L693.3 554.4L688.7 553.9L684 553.4L679 552.8L673.7 552.2L670 551.8z" fill="#909090"/>
<path d="M669.9 547.6L673.6 546.3L678.8 544.5L683.9 542.8L688.6 541.3L693.2 539.9L696.3 539L696.4 553.5L693.3 553.2L688.7 552.9L684 552.5L679 552.1L673.7 551.7L670 551.5z" fill="#9c9c9c"/>
<path d="M669.9 547.6L673.6 546.3L678.8 544.5L683.9 542.8L688.6 541.3L693.2 539.9L696.3 539L696.4 552.2L693.3 552L688.7 551.8L684 551.6L679 551.4L673.7 551.3L670 551.1z" fill="#a7a7a7"/>
<path d="M669.9 547.6L673.6 546.3L678.8 544.5L683.9 542.8L688.6 541.3L693.2 539.9L696.3 539L696.4 550.9L693.2 550.8L688.7 550.8L684 550.7L678.9 550.7L673.7 550.8L670 550.8z" fill="#b0b0b0"/>
<path d="M669.9 547.6L673.6 546.3L678.8 544.5L683.9 542.8L688.6 541.3L693.2 539.9L696.3 539L696.4 549.5L693.2 549.6L688.7 549.7L684 549.9L678.9 550L673.7 550.3L670 550.4z" fill="#b9b9b9"/>
<path d="M669.9 547.6L673.6 546.3L678.8 544.5L683.9 542.8L688.6 541.3L693.2 539.9L696.3 539L696.4 548.2L693.2 548.4L688.7 548.7L684 549L678.9 549.4L673.7 549.8L670 550.1z" fill="#c3c3c3"/>
<path d="M669.9 547.6L673.6 546.3L678.8 544.5L683.9 542.8L688.6 541.3L693.2 539.9L696.3 539L696.4 546.9L693.2 547.2L688.7 547.6L684 548.1L678.9 548.7L673.7 549.3L670 549.7z" fill="#cccccc"/>
<path d="M669.9 547.6L673.6 546.3L678.8 544.5L683.9 542.8L688.6 541.3L693.2 539.9L696.3 539L696.4 545.6L693.2 546L688.7 546.6L684 547.2L678.9 548L673.6 548.8L670 549.4z" fill="#d2d2d2"/>
<path d="M669.9 547.6L673.6 546.3L678.8 544.5L683.9 542.8L688.6 541.3L693.2 539.9L696.3 539L696.4 544.3L693.2 544.8L688.7 545.5L683.9 546.3L678.9 547.3L673.6 548.3L670 549z" fill="#d6d6d6"/>
<path d="M669.9 547.6L673.6 546.3L678.8 544.5L683.9 542.8L688.6 541.3L693.2 539.9L696.3 539L696.4 543L693.2 543.6L688.7 544.5L683.9 545.4L678.9 546.6L673.6 547.8L670 548.7z" fill="#dadada"/>
<path d="M669.9 547.6L673.6 546.3L678.8 544.5L683.9 542.8L688.6 541.3L693.2 539.9L696.3 539L696.3 541.6L693.2 542.4L688.7 543.4L683.9 544.6L678.8 545.9L673.6 547.3L669.9 548.3z" fill="#dedede"/>
<path d="M669.9 547.6L673.6 546.3L678.8 544.5L683.9 542.8L688.6 541.3L693.2 539.9L696.3 539L696.3 540.3L693.2 541.2L688.6 542.4L683.9 543.7L678.8 545.2L673.6 546.8L669.9 548z" fill="#e2e2e2"/>
<ellipse cx="696.4" cy="550.2" rx="6.6" ry="11.2" transform="rotate(8 696.4 550.2)" fill="#f6f6f6"/><ellipse cx="696.4" cy="550.2" rx="3.1" ry="5" transform="rotate(8 696.4 550.2)" fill="#b98a2e"/>
<path d="M587.8 559.8L596.5 563.6L608.5 568.5L620 571.9L631.4 573.7L643.3 574.7L654.7 574.9L666.5 573.8L679.1 572.6L691 572.8L701.5 574.2L710.7 575.9L719.3 577.9L726.9 580.2L731.9 581.8L724.5 603.4L719.8 601.6L713.3 599.3L706.1 597.4L698.1 595.9L689.5 594.8L680.1 594.6L668.6 595.9L655.3 597L641.7 596.4L628.1 594.5L614.8 591.4L601.4 586.5L588.8 580.5L580.2 576.2z" fill="#461900"/>
<path d="M587.8 559.8L596.5 563.6L608.5 568.5L620 571.9L631.4 573.7L643.3 574.7L654.7 574.9L666.5 573.8L679.1 572.6L691 572.8L701.5 574.2L710.7 575.9L719.3 577.9L726.9 580.2L731.9 581.8L724.9 602.2L720.2 600.4L713.6 598.1L706.3 596.2L698.3 594.7L689.6 593.6L680 593.4L668.5 594.6L655.3 595.8L641.8 595.2L628.3 593.3L615.1 590.3L601.8 585.5L589.2 579.5L580.6 575.3z" fill="#521e00"/>
<path d="M587.8 559.8L596.5 563.6L608.5 568.5L620 571.9L631.4 573.7L643.3 574.7L654.7 574.9L666.5 573.8L679.1 572.6L691 572.8L701.5 574.2L710.7 575.9L719.3 577.9L726.9 580.2L731.9 581.8L725.3 601L720.6 599.2L713.9 596.9L706.6 595L698.5 593.5L689.6 592.3L680 592.2L668.4 593.4L655.2 594.6L641.9 594L628.5 592.1L615.4 589.2L602.2 584.5L589.6 578.6L581 574.3z" fill="#5e2300"/>
<path d="M587.8 559.8L596.5 563.6L608.5 568.5L620 571.9L631.4 573.7L643.3 574.7L654.7 574.9L666.5 573.8L679.1 572.6L691 572.8L701.5 574.2L710.7 575.9L719.3 577.9L726.9 580.2L731.9 581.8L725.7 599.8L721 598.1L714.3 595.7L706.9 593.8L698.7 592.3L689.7 591.1L679.9 590.9L668.3 592.2L655.2 593.3L642 592.8L628.7 591L615.7 588.1L602.6 583.5L590.1 577.6L581.5 573.4z" fill="#6e2a00"/>
<path d="M587.8 559.8L596.5 563.6L608.5 568.5L620 571.9L631.4 573.7L643.3 574.7L654.7 574.9L666.5 573.8L679.1 572.6L691 572.8L701.5 574.2L710.7 575.9L719.3 577.9L726.9 580.2L731.9 581.8L726.1 598.6L721.4 596.9L714.6 594.5L707.1 592.6L698.9 591.1L689.8 589.9L679.8 589.7L668.2 591L655.2 592.1L642 591.6L628.9 589.8L615.9 587L603 582.5L590.5 576.7L581.9 572.5z" fill="#803200"/>
<path d="M587.8 559.8L596.5 563.6L608.5 568.5L620 571.9L631.4 573.7L643.3 574.7L654.7 574.9L666.5 573.8L679.1 572.6L691 572.8L701.5 574.2L710.7 575.9L719.3 577.9L726.9 580.2L731.9 581.8L726.5 597.4L721.8 595.7L714.9 593.4L707.4 591.4L699.1 589.9L689.9 588.7L679.8 588.5L668 589.7L655.1 590.9L642.1 590.4L629 588.7L616.2 585.9L603.4 581.5L590.9 575.8L582.3 571.6z" fill="#923a00"/>
<path d="M587.8 559.8L596.5 563.6L608.5 568.5L620 571.9L631.4 573.7L643.3 574.7L654.7 574.9L666.5 573.8L679.1 572.6L691 572.8L701.5 574.2L710.7 575.9L719.3 577.9L726.9 580.2L731.9 581.8L727 596.2L722.2 594.5L715.3 592.2L707.6 590.3L699.3 588.7L690 587.5L679.7 587.3L667.9 588.5L655.1 589.7L642.2 589.2L629.2 587.5L616.5 584.9L603.8 580.5L591.3 574.8L582.7 570.7z" fill="#a44200"/>
<path d="M587.8 559.8L596.5 563.6L608.5 568.5L620 571.9L631.4 573.7L643.3 574.7L654.7 574.9L666.5 573.8L679.1 572.6L691 572.8L701.5 574.2L710.7 575.9L719.3 577.9L726.9 580.2L731.9 581.8L727.4 595L722.6 593.3L715.6 591L707.9 589.1L699.4 587.4L690.1 586.3L679.7 586.1L667.8 587.3L655.1 588.4L642.3 588L629.4 586.4L616.8 583.8L604.2 579.5L591.8 573.9L583.2 569.8z" fill="#b54b00"/>
<path d="M587.8 559.8L596.5 563.6L608.5 568.5L620 571.9L631.4 573.7L643.3 574.7L654.7 574.9L666.5 573.8L679.1 572.6L691 572.8L701.5 574.2L710.7 575.9L719.3 577.9L726.9 580.2L731.9 581.8L727.8 593.8L723 592.1L716 589.8L708.1 587.9L699.6 586.2L690.2 585L679.6 584.8L667.7 586.1L655 587.2L642.4 586.8L629.6 585.2L617.1 582.7L604.6 578.5L592.2 573L583.6 568.9z" fill="#c75400"/>
<path d="M587.8 559.8L596.5 563.6L608.5 568.5L620 571.9L631.4 573.7L643.3 574.7L654.7 574.9L666.5 573.8L679.1 572.6L691 572.8L701.5 574.2L710.7 575.9L719.3 577.9L726.9 580.2L731.9 581.8L728.2 592.6L723.4 590.9L716.3 588.6L708.4 586.7L699.8 585L690.2 583.8L679.6 583.6L667.6 584.8L655 586L642.5 585.6L629.8 584.1L617.4 581.6L604.9 577.5L592.6 572L584 568z" fill="#d95c00"/>
<path d="M587.8 559.8L596.5 563.6L608.5 568.5L620 571.9L631.4 573.7L643.3 574.7L654.7 574.9L666.5 573.8L679.1 572.6L691 572.8L701.5 574.2L710.7 575.9L719.3 577.9L726.9 580.2L731.9 581.8L728.6 591.4L723.8 589.7L716.6 587.4L708.7 585.5L700 583.8L690.3 582.6L679.5 582.4L667.4 583.6L654.9 584.8L642.6 584.4L630 582.9L617.7 580.5L605.3 576.5L593 571.1L584.4 567.1z" fill="#e56400"/>
<path d="M587.8 559.8L596.5 563.6L608.5 568.5L620 571.9L631.4 573.7L643.3 574.7L654.7 574.9L666.5 573.8L679.1 572.6L691 572.8L701.5 574.2L710.7 575.9L719.3 577.9L726.9 580.2L731.9 581.8L729 590.2L724.2 588.6L717 586.2L708.9 584.3L700.2 582.6L690.4 581.4L679.5 581.2L667.3 582.4L654.9 583.5L642.7 583.2L630.1 581.8L618 579.5L605.7 575.5L593.5 570.1L584.8 566.2z" fill="#ee6c00"/>
<path d="M587.8 559.8L596.5 563.6L608.5 568.5L620 571.9L631.4 573.7L643.3 574.7L654.7 574.9L666.5 573.8L679.1 572.6L691 572.8L701.5 574.2L710.7 575.9L719.3 577.9L726.9 580.2L731.9 581.8L729.4 589L724.6 587.4L717.3 585.1L709.2 583.1L700.4 581.4L690.5 580.2L679.4 579.9L667.2 581.2L654.9 582.3L642.8 582L630.3 580.6L618.2 578.4L606.1 574.5L593.9 569.2L585.3 565.3z" fill="#f67300"/>
<path d="M587.8 559.8L596.5 563.6L608.5 568.5L620 571.9L631.4 573.7L643.3 574.7L654.7 574.9L666.5 573.8L679.1 572.6L691 572.8L701.5 574.2L710.7 575.9L719.3 577.9L726.9 580.2L731.9 581.8L729.9 587.8L725 586.2L717.6 583.9L709.4 581.9L700.6 580.2L690.6 578.9L679.3 578.7L667.1 579.9L654.8 581.1L642.9 580.8L630.5 579.5L618.5 577.3L606.5 573.5L594.3 568.3L585.7 564.4z" fill="#ff7a00"/>
<path d="M587.8 559.8L596.5 563.6L608.5 568.5L620 571.9L631.4 573.7L643.3 574.7L654.7 574.9L666.5 573.8L679.1 572.6L691 572.8L701.5 574.2L710.7 575.9L719.3 577.9L726.9 580.2L731.9 581.8L730.3 586.6L725.4 585L718 582.7L709.7 580.7L700.8 579L690.7 577.7L679.3 577.5L667 578.7L654.8 579.8L642.9 579.6L630.7 578.3L618.8 576.2L606.9 572.5L594.7 567.3L586.1 563.5z" fill="#ff7e00"/>
<path d="M587.8 559.8L596.5 563.6L608.5 568.5L620 571.9L631.4 573.7L643.3 574.7L654.7 574.9L666.5 573.8L679.1 572.6L691 572.8L701.5 574.2L710.7 575.9L719.3 577.9L726.9 580.2L731.9 581.8L730.7 585.4L725.8 583.8L718.3 581.5L710 579.5L701 577.8L690.8 576.5L679.2 576.3L666.9 577.5L654.8 578.6L643 578.4L630.9 577.2L619.1 575.1L607.3 571.5L595.2 566.4L586.5 562.6z" fill="#ff8100"/>
<path d="M587.8 559.8L596.5 563.6L608.5 568.5L620 571.9L631.4 573.7L643.3 574.7L654.7 574.9L666.5 573.8L679.1 572.6L691 572.8L701.5 574.2L710.7 575.9L719.3 577.9L726.9 580.2L731.9 581.8L731.1 584.2L726.1 582.6L718.7 580.3L710.2 578.3L701.1 576.6L690.8 575.3L679.2 575.1L666.7 576.3L654.7 577.4L643.1 577.2L631 576L619.4 574L607.7 570.5L595.6 565.4L587 561.7z" fill="#ff8500"/>
<path d="M587.8 559.8L596.5 563.6L608.5 568.5L620 571.9L631.4 573.7L643.3 574.7L654.7 574.9L666.5 573.8L679.1 572.6L691 572.8L701.5 574.2L710.7 575.9L719.3 577.9L726.9 580.2L731.9 581.8L731.5 583L726.5 581.4L719 579.1L710.5 577.1L701.3 575.4L690.9 574.1L679.1 573.8L666.6 575.1L654.7 576.2L643.2 575.9L631.2 574.9L619.7 573L608.1 569.5L596 564.5L587.4 560.7z" fill="#ff8800"/>
<ellipse cx="728.2" cy="592.6" rx="6" ry="11.4" transform="rotate(10 728.2 592.6)" fill="#ff7400"/><ellipse cx="728.2" cy="592.6" rx="2.8" ry="5.1" transform="rotate(10 728.2 592.6)" fill="#b98a2e"/>
<path d="M650.2 593L664 593.1L682.4 593.1L696.6 592.8L708.2 592.4L716.1 592L716.5 611.6L708.4 611.5L696.5 611.2L682.1 610.7L663.6 609.7L649.8 609z" fill="#712b00"/>
<path d="M650.2 593L664 593.1L682.4 593.1L696.6 592.8L708.2 592.4L716.1 592L716.4 610.3L708.4 610.2L696.5 610L682.1 609.5L663.6 608.6L649.8 607.9z" fill="#7f3100"/>
<path d="M650.2 593L664 593.1L682.4 593.1L696.6 592.8L708.2 592.4L716.1 592L716.4 609L708.4 608.9L696.5 608.8L682.1 608.3L663.6 607.5L649.8 606.9z" fill="#8e3800"/>
<path d="M650.2 593L664 593.1L682.4 593.1L696.6 592.8L708.2 592.4L716.1 592L716.4 607.7L708.4 607.7L696.5 607.5L682.1 607.1L663.6 606.4L649.9 605.8z" fill="#9d3f00"/>
<path d="M650.2 593L664 593.1L682.4 593.1L696.6 592.8L708.2 592.4L716.1 592L716.4 606.4L708.4 606.4L696.5 606.3L682.2 606L663.7 605.3L649.9 604.7z" fill="#ac4700"/>
<path d="M650.2 593L664 593.1L682.4 593.1L696.6 592.8L708.2 592.4L716.1 592L716.4 605.1L708.4 605.1L696.6 605.1L682.2 604.8L663.7 604.2L649.9 603.7z" fill="#bb4e00"/>
<path d="M650.2 593L664 593.1L682.4 593.1L696.6 592.8L708.2 592.4L716.1 592L716.3 603.8L708.4 603.8L696.6 603.9L682.2 603.6L663.7 603.1L650 602.6z" fill="#c75500"/>
<path d="M650.2 593L664 593.1L682.4 593.1L696.6 592.8L708.2 592.4L716.1 592L716.3 602.5L708.3 602.6L696.6 602.6L682.2 602.4L663.8 601.9L650 601.5z" fill="#d05a00"/>
<path d="M650.2 593L664 593.1L682.4 593.1L696.6 592.8L708.2 592.4L716.1 592L716.3 601.1L708.3 601.3L696.6 601.4L682.2 601.3L663.8 600.8L650 600.5z" fill="#d95f00"/>
<path d="M650.2 593L664 593.1L682.4 593.1L696.6 592.8L708.2 592.4L716.1 592L716.3 599.8L708.3 600L696.6 600.2L682.3 600.1L663.8 599.7L650 599.4z" fill="#e36500"/>
<path d="M650.2 593L664 593.1L682.4 593.1L696.6 592.8L708.2 592.4L716.1 592L716.2 598.5L708.3 598.7L696.6 599L682.3 598.9L663.9 598.6L650.1 598.3z" fill="#ec6a00"/>
<path d="M650.2 593L664 593.1L682.4 593.1L696.6 592.8L708.2 592.4L716.1 592L716.2 597.2L708.3 597.5L696.6 597.7L682.3 597.8L663.9 597.5L650.1 597.3z" fill="#ee6c00"/>
<path d="M650.2 593L664 593.1L682.4 593.1L696.6 592.8L708.2 592.4L716.1 592L716.2 595.9L708.3 596.2L696.6 596.5L682.3 596.6L663.9 596.4L650.1 596.2z" fill="#f06e00"/>
<path d="M650.2 593L664 593.1L682.4 593.1L696.6 592.8L708.2 592.4L716.1 592L716.2 594.6L708.2 594.9L696.6 595.3L682.4 595.4L663.9 595.3L650.2 595.1z" fill="#f17100"/>
<path d="M650.2 593L664 593.1L682.4 593.1L696.6 592.8L708.2 592.4L716.1 592L716.2 593.3L708.2 593.6L696.6 594.1L682.4 594.2L664 594.2L650.2 594.1z" fill="#f37300"/>
<ellipse cx="716.3" cy="601.8" rx="5.6" ry="9.8" transform="rotate(-0.9 716.3 601.8)" fill="#ff7400"/><ellipse cx="716.3" cy="601.8" rx="2.6" ry="4.4" transform="rotate(-0.9 716.3 601.8)" fill="#b98a2e"/>
<path d="M660.7 603L669.4 603.4L682.1 603.9L695.9 604.9L708.3 606.7L719.9 609L730.8 611.9L741 615.2L750.4 619.2L758.5 623.5L765.4 627.5L771.6 631.2L777.8 635.2L782.9 638.6L786.4 641L768.8 668.2L765.2 666L760.2 662.9L754.5 659.4L748.4 655.8L742.1 651.9L735.8 648.2L729 644.8L720.9 641.5L711.9 638.2L702.4 635.4L692.5 633.4L680.1 632.2L667.9 631.5L659.3 631z" fill="#3f0f0b"/>
<path d="M660.7 603L669.4 603.4L682.1 603.9L695.9 604.9L708.3 606.7L719.9 609L730.8 611.9L741 615.2L750.4 619.2L758.5 623.5L765.4 627.5L771.6 631.2L777.8 635.2L782.9 638.6L786.4 641L769.5 667.1L765.9 664.9L760.9 661.8L755.2 658.3L749.1 654.7L742.8 650.8L736.4 647L729.5 643.6L721.3 640.3L712.2 637L702.6 634.3L692.6 632.3L680.2 631.1L668 630.4L659.4 629.9z" fill="#44100c"/>
<path d="M660.7 603L669.4 603.4L682.1 603.9L695.9 604.9L708.3 606.7L719.9 609L730.8 611.9L741 615.2L750.4 619.2L758.5 623.5L765.4 627.5L771.6 631.2L777.8 635.2L782.9 638.6L786.4 641L770.2 666L766.6 663.8L761.6 660.6L755.9 657.2L749.8 653.5L743.4 649.6L737 645.9L729.9 642.5L721.7 639.1L712.5 635.9L702.9 633.1L692.7 631.2L680.3 630L668.1 629.2L659.4 628.7z" fill="#49110d"/>
<path d="M660.7 603L669.4 603.4L682.1 603.9L695.9 604.9L708.3 606.7L719.9 609L730.8 611.9L741 615.2L750.4 619.2L758.5 623.5L765.4 627.5L771.6 631.2L777.8 635.2L782.9 638.6L786.4 641L770.9 664.9L767.3 662.7L762.3 659.5L756.5 656L750.5 652.4L744.1 648.5L737.5 644.7L730.4 641.3L722.1 637.9L712.8 634.7L703.1 632L692.9 630L680.4 628.8L668.1 628.1L659.5 627.6z" fill="#4e120e"/>
<path d="M660.7 603L669.4 603.4L682.1 603.9L695.9 604.9L708.3 606.7L719.9 609L730.8 611.9L741 615.2L750.4 619.2L758.5 623.5L765.4 627.5L771.6 631.2L777.8 635.2L782.9 638.6L786.4 641L771.6 663.8L768 661.6L763 658.4L757.2 654.9L751.2 651.3L744.7 647.3L738.1 643.5L730.9 640.1L722.5 636.8L713.1 633.5L703.4 630.8L693 628.9L680.5 627.7L668.2 627L659.5 626.5z" fill="#53130f"/>
<path d="M660.7 603L669.4 603.4L682.1 603.9L695.9 604.9L708.3 606.7L719.9 609L730.8 611.9L741 615.2L750.4 619.2L758.5 623.5L765.4 627.5L771.6 631.2L777.8 635.2L782.9 638.6L786.4 641L772.3 662.8L768.7 660.5L763.7 657.3L757.9 653.8L751.8 650.2L745.4 646.2L738.7 642.4L731.4 638.9L722.9 635.6L713.5 632.4L703.6 629.7L693.2 627.7L680.5 626.6L668.2 625.9L659.6 625.4z" fill="#5a1511"/>
<path d="M660.7 603L669.4 603.4L682.1 603.9L695.9 604.9L708.3 606.7L719.9 609L730.8 611.9L741 615.2L750.4 619.2L758.5 623.5L765.4 627.5L771.6 631.2L777.8 635.2L782.9 638.6L786.4 641L773 661.7L769.5 659.4L764.4 656.2L758.6 652.6L752.5 649L746.1 645.1L739.3 641.2L731.9 637.7L723.3 634.4L713.8 631.2L703.8 628.5L693.3 626.6L680.6 625.4L668.3 624.7L659.6 624.3z" fill="#631813"/>
<path d="M660.7 603L669.4 603.4L682.1 603.9L695.9 604.9L708.3 606.7L719.9 609L730.8 611.9L741 615.2L750.4 619.2L758.5 623.5L765.4 627.5L771.6 631.2L777.8 635.2L782.9 638.6L786.4 641L773.7 660.6L770.2 658.3L765.1 655.1L759.3 651.5L753.2 647.9L746.7 643.9L739.9 640.1L732.4 636.5L723.7 633.2L714.1 630L704.1 627.4L693.4 625.5L680.7 624.3L668.3 623.6L659.7 623.2z" fill="#6c1b14"/>
<path d="M660.7 603L669.4 603.4L682.1 603.9L695.9 604.9L708.3 606.7L719.9 609L730.8 611.9L741 615.2L750.4 619.2L758.5 623.5L765.4 627.5L771.6 631.2L777.8 635.2L782.9 638.6L786.4 641L774.4 659.5L770.9 657.2L765.8 654L760 650.4L753.9 646.8L747.4 642.8L740.5 638.9L732.8 635.3L724.1 632L714.4 628.9L704.3 626.2L693.6 624.3L680.8 623.2L668.4 622.5L659.7 622z" fill="#751d16"/>
<path d="M660.7 603L669.4 603.4L682.1 603.9L695.9 604.9L708.3 606.7L719.9 609L730.8 611.9L741 615.2L750.4 619.2L758.5 623.5L765.4 627.5L771.6 631.2L777.8 635.2L782.9 638.6L786.4 641L775.1 658.4L771.6 656.1L766.5 652.9L760.7 649.3L754.5 645.6L748 641.7L741 637.7L733.3 634.2L724.5 630.8L714.8 627.7L704.5 625.1L693.7 623.2L680.8 622L668.5 621.4L659.8 620.9z" fill="#7e2018"/>
<path d="M660.7 603L669.4 603.4L682.1 603.9L695.9 604.9L708.3 606.7L719.9 609L730.8 611.9L741 615.2L750.4 619.2L758.5 623.5L765.4 627.5L771.6 631.2L777.8 635.2L782.9 638.6L786.4 641L775.8 657.3L772.3 655L767.2 651.8L761.3 648.1L755.2 644.5L748.7 640.5L741.6 636.6L733.8 633L724.9 629.6L715.1 626.5L704.8 623.9L693.8 622L680.9 620.9L668.5 620.2L659.9 619.8z" fill="#8c231b"/>
<path d="M660.7 603L669.4 603.4L682.1 603.9L695.9 604.9L708.3 606.7L719.9 609L730.8 611.9L741 615.2L750.4 619.2L758.5 623.5L765.4 627.5L771.6 631.2L777.8 635.2L782.9 638.6L786.4 641L776.5 656.2L773 653.9L767.9 650.7L762 647L755.9 643.4L749.3 639.4L742.2 635.4L734.3 631.8L725.3 628.5L715.4 625.4L705 622.8L694 620.9L681 619.8L668.6 619.1L659.9 618.7z" fill="#9b261e"/>
<path d="M660.7 603L669.4 603.4L682.1 603.9L695.9 604.9L708.3 606.7L719.9 609L730.8 611.9L741 615.2L750.4 619.2L758.5 623.5L765.4 627.5L771.6 631.2L777.8 635.2L782.9 638.6L786.4 641L777.2 655.1L773.7 652.9L768.6 649.6L762.7 645.9L756.6 642.2L750 638.3L742.8 634.3L734.8 630.6L725.7 627.3L715.7 624.2L705.2 621.6L694.1 619.7L681.1 618.6L668.6 618L660 617.6z" fill="#a92921"/>
<path d="M660.7 603L669.4 603.4L682.1 603.9L695.9 604.9L708.3 606.7L719.9 609L730.8 611.9L741 615.2L750.4 619.2L758.5 623.5L765.4 627.5L771.6 631.2L777.8 635.2L782.9 638.6L786.4 641L778 654.1L774.4 651.8L769.3 648.5L763.4 644.7L757.2 641.1L750.7 637.1L743.4 633.1L735.2 629.4L726.1 626.1L716 623L705.5 620.5L694.3 618.6L681.1 617.5L668.7 616.9L660 616.4z" fill="#b72b25"/>
<path d="M660.7 603L669.4 603.4L682.1 603.9L695.9 604.9L708.3 606.7L719.9 609L730.8 611.9L741 615.2L750.4 619.2L758.5 623.5L765.4 627.5L771.6 631.2L777.8 635.2L782.9 638.6L786.4 641L778.7 653L775.1 650.7L770 647.3L764.1 643.6L757.9 640L751.3 636L744 631.9L735.7 628.2L726.5 624.9L716.4 621.9L705.7 619.3L694.4 617.5L681.2 616.4L668.7 615.7L660.1 615.3z" fill="#c52e2a"/>
<path d="M660.7 603L669.4 603.4L682.1 603.9L695.9 604.9L708.3 606.7L719.9 609L730.8 611.9L741 615.2L750.4 619.2L758.5 623.5L765.4 627.5L771.6 631.2L777.8 635.2L782.9 638.6L786.4 641L779.4 651.9L775.8 649.6L770.7 646.2L764.8 642.5L758.6 638.8L752 634.9L744.5 630.8L736.2 627L726.9 623.7L716.7 620.7L705.9 618.2L694.5 616.3L681.3 615.2L668.8 614.6L660.1 614.2z" fill="#d2312f"/>
<path d="M660.7 603L669.4 603.4L682.1 603.9L695.9 604.9L708.3 606.7L719.9 609L730.8 611.9L741 615.2L750.4 619.2L758.5 623.5L765.4 627.5L771.6 631.2L777.8 635.2L782.9 638.6L786.4 641L780.1 650.8L776.6 648.5L771.4 645.1L765.5 641.4L759.3 637.7L752.6 633.7L745.1 629.6L736.7 625.8L727.3 622.5L717 619.5L706.2 617L694.7 615.2L681.4 614.1L668.9 613.5L660.2 613.1z" fill="#e03434"/>
<path d="M660.7 603L669.4 603.4L682.1 603.9L695.9 604.9L708.3 606.7L719.9 609L730.8 611.9L741 615.2L750.4 619.2L758.5 623.5L765.4 627.5L771.6 631.2L777.8 635.2L782.9 638.6L786.4 641L780.8 649.7L777.3 647.4L772.2 644L766.1 640.2L759.9 636.6L753.3 632.6L745.7 628.4L737.2 624.7L727.7 621.4L717.3 618.4L706.4 615.9L694.8 614L681.5 613L668.9 612.4L660.3 612z" fill="#e93838"/>
<path d="M660.7 603L669.4 603.4L682.1 603.9L695.9 604.9L708.3 606.7L719.9 609L730.8 611.9L741 615.2L750.4 619.2L758.5 623.5L765.4 627.5L771.6 631.2L777.8 635.2L782.9 638.6L786.4 641L781.5 648.6L778 646.3L772.9 642.9L766.8 639.1L760.6 635.4L753.9 631.5L746.3 627.3L737.6 623.5L728.1 620.2L717.6 617.2L706.6 614.7L695 612.9L681.5 611.8L669 611.2L660.3 610.8z" fill="#f23c3c"/>
<path d="M660.7 603L669.4 603.4L682.1 603.9L695.9 604.9L708.3 606.7L719.9 609L730.8 611.9L741 615.2L750.4 619.2L758.5 623.5L765.4 627.5L771.6 631.2L777.8 635.2L782.9 638.6L786.4 641L782.2 647.5L778.7 645.2L773.6 641.8L767.5 638L761.3 634.3L754.6 630.3L746.9 626.1L738.1 622.3L728.4 619L718 616L706.9 613.6L695.1 611.8L681.6 610.7L669 610.1L660.4 609.7z" fill="#fb4040"/>
<path d="M660.7 603L669.4 603.4L682.1 603.9L695.9 604.9L708.3 606.7L719.9 609L730.8 611.9L741 615.2L750.4 619.2L758.5 623.5L765.4 627.5L771.6 631.2L777.8 635.2L782.9 638.6L786.4 641L782.9 646.4L779.4 644.1L774.3 640.7L768.2 636.9L762 633.2L755.3 629.2L747.5 625L738.6 621.1L728.8 617.8L718.3 614.9L707.1 612.4L695.2 610.6L681.7 609.6L669.1 609L660.4 608.6z" fill="#ff4242"/>
<path d="M660.7 603L669.4 603.4L682.1 603.9L695.9 604.9L708.3 606.7L719.9 609L730.8 611.9L741 615.2L750.4 619.2L758.5 623.5L765.4 627.5L771.6 631.2L777.8 635.2L782.9 638.6L786.4 641L783.6 645.4L780.1 643L775 639.6L768.9 635.7L762.7 632L755.9 628L748 623.8L739.1 619.9L729.2 616.6L718.6 613.7L707.3 611.3L695.4 609.5L681.8 608.4L669.1 607.9L660.5 607.5z" fill="#ff4343"/>
<path d="M660.7 603L669.4 603.4L682.1 603.9L695.9 604.9L708.3 606.7L719.9 609L730.8 611.9L741 615.2L750.4 619.2L758.5 623.5L765.4 627.5L771.6 631.2L777.8 635.2L782.9 638.6L786.4 641L784.3 644.3L780.8 641.9L775.7 638.5L769.6 634.6L763.3 630.9L756.6 626.9L748.6 622.6L739.6 618.7L729.6 615.4L718.9 612.5L707.6 610.1L695.5 608.3L681.8 607.3L669.2 606.7L660.5 606.4z" fill="#ff4444"/>
<path d="M660.7 603L669.4 603.4L682.1 603.9L695.9 604.9L708.3 606.7L719.9 609L730.8 611.9L741 615.2L750.4 619.2L758.5 623.5L765.4 627.5L771.6 631.2L777.8 635.2L782.9 638.6L786.4 641L785 643.2L781.5 640.8L776.4 637.4L770.3 633.5L764 629.8L757.2 625.8L749.2 621.5L740.1 617.5L730 614.2L719.2 611.4L707.8 609L695.7 607.2L681.9 606.2L669.3 605.6L660.6 605.3z" fill="#ff4545"/>
<path d="M660.7 603L669.4 603.4L682.1 603.9L695.9 604.9L708.3 606.7L719.9 609L730.8 611.9L741 615.2L750.4 619.2L758.5 623.5L765.4 627.5L771.6 631.2L777.8 635.2L782.9 638.6L786.4 641L785.7 642.1L782.2 639.7L777.1 636.3L770.9 632.3L764.7 628.7L757.9 624.6L749.8 620.3L740.5 616.4L730.4 613.1L719.6 610.2L708.1 607.8L695.8 606.1L682 605L669.3 604.5L660.6 604.1z" fill="#ff4646"/>
<ellipse cx="777.6" cy="654.6" rx="8.4" ry="16.2" transform="rotate(33 777.6 654.6)" fill="#e03232"/>
<ellipse cx="716.3" cy="601.8" rx="5.6" ry="9.8" transform="rotate(2 716.3 601.8)" fill="#ff7400"/><ellipse cx="716.3" cy="601.8" rx="2.6" ry="4.4" transform="rotate(2 716.3 601.8)" fill="#b98a2e"/>
<path d="M586.1 539.7L593.6 538.4L604.4 536.7L615.3 535.5L624.8 535.4L633.8 536L642.2 537.2L649.8 539.2L656.3 541.7L662.3 544.3L669.3 547.2L676.4 550.4L681.2 552.6L672 573L667.1 570.8L660.4 567.7L653.7 564.9L648.1 562.8L643.1 561L637.8 559.8L631.4 558.9L624.2 558.4L616.7 558.5L607.5 559.5L597.3 561.1L589.9 562.3z" fill="#2f2f00"/>
<path d="M586.1 539.7L593.6 538.4L604.4 536.7L615.3 535.5L624.8 535.4L633.8 536L642.2 537.2L649.8 539.2L656.3 541.7L662.3 544.3L669.3 547.2L676.4 550.4L681.2 552.6L672.5 571.9L667.7 569.7L660.9 566.6L654.2 563.8L648.6 561.6L643.4 559.8L638.1 558.5L631.6 557.6L624.2 557.2L616.6 557.2L607.3 558.2L597.1 559.8L589.7 561.1z" fill="#353500"/>
<path d="M586.1 539.7L593.6 538.4L604.4 536.7L615.3 535.5L624.8 535.4L633.8 536L642.2 537.2L649.8 539.2L656.3 541.7L662.3 544.3L669.3 547.2L676.4 550.4L681.2 552.6L673 570.7L668.2 568.5L661.4 565.5L654.7 562.6L649 560.4L643.8 558.6L638.3 557.3L631.7 556.4L624.3 555.9L616.6 555.9L607.1 556.9L596.8 558.6L589.5 559.8z" fill="#3b3b00"/>
<path d="M586.1 539.7L593.6 538.4L604.4 536.7L615.3 535.5L624.8 535.4L633.8 536L642.2 537.2L649.8 539.2L656.3 541.7L662.3 544.3L669.3 547.2L676.4 550.4L681.2 552.6L673.5 569.6L668.7 567.4L661.9 564.3L655.1 561.5L649.5 559.3L644.2 557.4L638.6 556L631.8 555.1L624.3 554.6L616.5 554.7L606.9 555.7L596.6 557.3L589.3 558.6z" fill="#4b4b00"/>
<path d="M586.1 539.7L593.6 538.4L604.4 536.7L615.3 535.5L624.8 535.4L633.8 536L642.2 537.2L649.8 539.2L656.3 541.7L662.3 544.3L669.3 547.2L676.4 550.4L681.2 552.6L674 568.5L669.2 566.3L662.4 563.2L655.6 560.3L649.9 558.1L644.6 556.2L638.8 554.8L631.9 553.8L624.3 553.3L616.4 553.4L606.8 554.4L596.4 556.1L589.1 557.3z" fill="#5f5f00"/>
<path d="M586.1 539.7L593.6 538.4L604.4 536.7L615.3 535.5L624.8 535.4L633.8 536L642.2 537.2L649.8 539.2L656.3 541.7L662.3 544.3L669.3 547.2L676.4 550.4L681.2 552.6L674.5 567.3L669.7 565.1L662.9 562L656.1 559.2L650.4 556.9L644.9 555L639 553.5L632.1 552.6L624.4 552L616.3 552.1L606.6 553.1L596.2 554.8L588.8 556z" fill="#737300"/>
<path d="M586.1 539.7L593.6 538.4L604.4 536.7L615.3 535.5L624.8 535.4L633.8 536L642.2 537.2L649.8 539.2L656.3 541.7L662.3 544.3L669.3 547.2L676.4 550.4L681.2 552.6L675.1 566.2L670.2 564L663.4 560.9L656.6 558L650.8 555.7L645.3 553.8L639.3 552.3L632.2 551.3L624.4 550.8L616.2 550.8L606.4 551.9L596 553.5L588.6 554.8z" fill="#919100"/>
<path d="M586.1 539.7L593.6 538.4L604.4 536.7L615.3 535.5L624.8 535.4L633.8 536L642.2 537.2L649.8 539.2L656.3 541.7L662.3 544.3L669.3 547.2L676.4 550.4L681.2 552.6L675.6 565.1L670.7 562.9L663.9 559.8L657 556.9L651.3 554.6L645.7 552.5L639.5 551L632.3 550L624.4 549.5L616.2 549.6L606.3 550.6L595.8 552.3L588.4 553.5z" fill="#aeae00"/>
<path d="M586.1 539.7L593.6 538.4L604.4 536.7L615.3 535.5L624.8 535.4L633.8 536L642.2 537.2L649.8 539.2L656.3 541.7L662.3 544.3L669.3 547.2L676.4 550.4L681.2 552.6L676.1 563.9L671.2 561.7L664.3 558.6L657.5 555.7L651.7 553.4L646 551.3L639.8 549.8L632.5 548.7L624.5 548.2L616.1 548.3L606.1 549.3L595.6 551L588.2 552.3z" fill="#c9c900"/>
<path d="M586.1 539.7L593.6 538.4L604.4 536.7L615.3 535.5L624.8 535.4L633.8 536L642.2 537.2L649.8 539.2L656.3 541.7L662.3 544.3L669.3 547.2L676.4 550.4L681.2 552.6L676.6 562.8L671.8 560.6L664.8 557.5L658 554.6L652.2 552.2L646.4 550.1L640 548.5L632.6 547.5L624.5 546.9L616 547L605.9 548.1L595.4 549.8L588 551z" fill="#e1e100"/>
<path d="M586.1 539.7L593.6 538.4L604.4 536.7L615.3 535.5L624.8 535.4L633.8 536L642.2 537.2L649.8 539.2L656.3 541.7L662.3 544.3L669.3 547.2L676.4 550.4L681.2 552.6L677.1 561.7L672.3 559.5L665.3 556.3L658.5 553.5L652.6 551.1L646.8 548.9L640.2 547.2L632.7 546.2L624.6 545.6L615.9 545.7L605.8 546.8L595.2 548.5L587.8 549.7z" fill="#f8f800"/>
<path d="M586.1 539.7L593.6 538.4L604.4 536.7L615.3 535.5L624.8 535.4L633.8 536L642.2 537.2L649.8 539.2L656.3 541.7L662.3 544.3L669.3 547.2L676.4 550.4L681.2 552.6L677.6 560.5L672.8 558.3L665.8 555.2L659 552.3L653.1 549.9L647.2 547.7L640.5 546L632.9 544.9L624.6 544.4L615.8 544.4L605.6 545.5L595 547.2L587.6 548.5z" fill="#ffff00"/>
<path d="M586.1 539.7L593.6 538.4L604.4 536.7L615.3 535.5L624.8 535.4L633.8 536L642.2 537.2L649.8 539.2L656.3 541.7L662.3 544.3L669.3 547.2L676.4 550.4L681.2 552.6L678.1 559.4L673.3 557.2L666.3 554.1L659.4 551.2L653.5 548.7L647.5 546.5L640.7 544.7L633 543.6L624.6 543.1L615.8 543.2L605.4 544.3L594.8 546L587.4 547.2z" fill="#ffff00"/>
<path d="M586.1 539.7L593.6 538.4L604.4 536.7L615.3 535.5L624.8 535.4L633.8 536L642.2 537.2L649.8 539.2L656.3 541.7L662.3 544.3L669.3 547.2L676.4 550.4L681.2 552.6L678.7 558.3L673.8 556.1L666.8 552.9L659.9 550L654 547.6L647.9 545.3L641 543.5L633.1 542.4L624.7 541.8L615.7 541.9L605.2 543L594.6 544.7L587.2 546z" fill="#ffff00"/>
<path d="M586.1 539.7L593.6 538.4L604.4 536.7L615.3 535.5L624.8 535.4L633.8 536L642.2 537.2L649.8 539.2L656.3 541.7L662.3 544.3L669.3 547.2L676.4 550.4L681.2 552.6L679.2 557.1L674.3 554.9L667.3 551.8L660.4 548.9L654.4 546.4L648.3 544.1L641.2 542.2L633.2 541.1L624.7 540.5L615.6 540.6L605.1 541.7L594.4 543.5L586.9 544.7z" fill="#ffff00"/>
<path d="M586.1 539.7L593.6 538.4L604.4 536.7L615.3 535.5L624.8 535.4L633.8 536L642.2 537.2L649.8 539.2L656.3 541.7L662.3 544.3L669.3 547.2L676.4 550.4L681.2 552.6L679.7 556L674.8 553.8L667.8 550.7L660.9 547.7L654.9 545.2L648.7 542.8L641.4 541L633.4 539.8L624.7 539.3L615.5 539.3L604.9 540.5L594.2 542.2L586.7 543.4z" fill="#ffff00"/>
<path d="M586.1 539.7L593.6 538.4L604.4 536.7L615.3 535.5L624.8 535.4L633.8 536L642.2 537.2L649.8 539.2L656.3 541.7L662.3 544.3L669.3 547.2L676.4 550.4L681.2 552.6L680.2 554.9L675.3 552.7L668.3 549.5L661.3 546.6L655.3 544.1L649 541.6L641.7 539.7L633.5 538.5L624.8 538L615.4 538.1L604.7 539.2L594 540.9L586.5 542.2z" fill="#ffff00"/>
<path d="M586.1 539.7L593.6 538.4L604.4 536.7L615.3 535.5L624.8 535.4L633.8 536L642.2 537.2L649.8 539.2L656.3 541.7L662.3 544.3L669.3 547.2L676.4 550.4L681.2 552.6L680.7 553.7L675.9 551.5L668.8 548.4L661.8 545.4L655.8 542.9L649.4 540.4L641.9 538.5L633.6 537.3L624.8 536.7L615.4 536.8L604.6 537.9L593.8 539.7L586.3 540.9z" fill="#ffff00"/>
<ellipse cx="676.6" cy="562.8" rx="6.2" ry="11.2" transform="rotate(8 676.6 562.8)" fill="#ffff10"/><ellipse cx="676.6" cy="562.8" rx="2.9" ry="5" transform="rotate(8 676.6 562.8)" fill="#b98a2e"/>
<path d="M586.6 557.1L590.7 556.6L596.6 555.9L602.7 555.7L609.3 555.9L615.9 556.4L621.9 556.8L627.1 557.3L631.5 557.6L636.4 557.1L642.3 556L648.4 554.5L653.6 553L658.2 551.4L661.4 550.3L667.8 571.7L664.3 572.6L659.1 573.8L653.4 575L646.8 576.6L639.3 578L631.7 578.5L624.9 578L618.8 576.9L612.5 575.4L605.8 573.2L599.6 570.8L594 568.1L588.9 565.1L585.4 562.9z" fill="#4c5407"/>
<path d="M586.6 557.1L590.7 556.6L596.6 555.9L602.7 555.7L609.3 555.9L615.9 556.4L621.9 556.8L627.1 557.3L631.5 557.6L636.4 557.1L642.3 556L648.4 554.5L653.6 553L658.2 551.4L661.4 550.3L667.4 570.5L664 571.3L658.8 572.6L653.1 573.8L646.5 575.4L639.1 576.8L631.7 577.3L625 576.8L619 575.7L612.7 574.2L606 572.2L599.8 569.9L594.2 567.4L589 564.6L585.4 562.6z" fill="#555c06"/>
<path d="M586.6 557.1L590.7 556.6L596.6 555.9L602.7 555.7L609.3 555.9L615.9 556.4L621.9 556.8L627.1 557.3L631.5 557.6L636.4 557.1L642.3 556L648.4 554.5L653.6 553L658.2 551.4L661.4 550.3L667 569.2L663.6 570.1L658.5 571.3L652.8 572.6L646.3 574.1L638.9 575.6L631.7 576.1L625.2 575.6L619.2 574.6L612.9 573.1L606.2 571.2L600 569L594.3 566.7L589.1 564.1L585.5 562.2z" fill="#5e6404"/>
<path d="M586.6 557.1L590.7 556.6L596.6 555.9L602.7 555.7L609.3 555.9L615.9 556.4L621.9 556.8L627.1 557.3L631.5 557.6L636.4 557.1L642.3 556L648.4 554.5L653.6 553L658.2 551.4L661.4 550.3L666.7 567.9L663.2 568.8L658.2 570.1L652.5 571.4L646 572.9L638.8 574.3L631.7 574.8L625.3 574.4L619.4 573.4L613.1 572L606.4 570.2L600.1 568.1L594.5 566L589.2 563.6L585.6 561.9z" fill="#666b03"/>
<path d="M586.6 557.1L590.7 556.6L596.6 555.9L602.7 555.7L609.3 555.9L615.9 556.4L621.9 556.8L627.1 557.3L631.5 557.6L636.4 557.1L642.3 556L648.4 554.5L653.6 553L658.2 551.4L661.4 550.3L666.3 566.7L662.9 567.6L657.8 568.9L652.2 570.2L645.7 571.7L638.6 573.1L631.7 573.6L625.4 573.2L619.6 572.2L613.3 570.9L606.6 569.1L600.3 567.3L594.6 565.2L589.3 563.1L585.7 561.6z" fill="#6f7301"/>
<path d="M586.6 557.1L590.7 556.6L596.6 555.9L602.7 555.7L609.3 555.9L615.9 556.4L621.9 556.8L627.1 557.3L631.5 557.6L636.4 557.1L642.3 556L648.4 554.5L653.6 553L658.2 551.4L661.4 550.3L665.9 565.4L662.5 566.3L657.5 567.7L651.9 569L645.5 570.5L638.4 571.9L631.7 572.4L625.5 571.9L619.7 571L613.5 569.8L606.8 568.1L600.5 566.4L594.8 564.5L589.4 562.6L585.7 561.2z" fill="#797d00"/>
<path d="M586.6 557.1L590.7 556.6L596.6 555.9L602.7 555.7L609.3 555.9L615.9 556.4L621.9 556.8L627.1 557.3L631.5 557.6L636.4 557.1L642.3 556L648.4 554.5L653.6 553L658.2 551.4L661.4 550.3L665.5 564.2L662.2 565.1L657.2 566.5L651.6 567.8L645.2 569.3L638.3 570.7L631.7 571.1L625.7 570.7L619.9 569.8L613.7 568.7L607 567.1L600.7 565.5L594.9 563.8L589.5 562.1L585.8 560.9z" fill="#868900"/>
<path d="M586.6 557.1L590.7 556.6L596.6 555.9L602.7 555.7L609.3 555.9L615.9 556.4L621.9 556.8L627.1 557.3L631.5 557.6L636.4 557.1L642.3 556L648.4 554.5L653.6 553L658.2 551.4L661.4 550.3L665.2 562.9L661.8 563.9L656.9 565.2L651.3 566.6L645 568.1L638.1 569.4L631.6 569.9L625.8 569.5L620.1 568.6L613.9 567.5L607.2 566.1L600.9 564.6L595.1 563.1L589.6 561.6L585.9 560.5z" fill="#949500"/>
<path d="M586.6 557.1L590.7 556.6L596.6 555.9L602.7 555.7L609.3 555.9L615.9 556.4L621.9 556.8L627.1 557.3L631.5 557.6L636.4 557.1L642.3 556L648.4 554.5L653.6 553L658.2 551.4L661.4 550.3L664.8 561.6L661.4 562.6L656.5 564L651 565.4L644.7 566.9L637.9 568.2L631.6 568.7L625.9 568.3L620.3 567.5L614.1 566.4L607.4 565.1L601.1 563.7L595.2 562.4L589.7 561.1L586 560.2z" fill="#a1a200"/>
<path d="M586.6 557.1L590.7 556.6L596.6 555.9L602.7 555.7L609.3 555.9L615.9 556.4L621.9 556.8L627.1 557.3L631.5 557.6L636.4 557.1L642.3 556L648.4 554.5L653.6 553L658.2 551.4L661.4 550.3L664.4 560.4L661.1 561.4L656.2 562.8L650.7 564.2L644.4 565.7L637.7 567L631.6 567.4L626.1 567.1L620.5 566.3L614.3 565.3L607.6 564.1L601.3 562.8L595.4 561.7L589.9 560.6L586 559.8z" fill="#aeae00"/>
<path d="M586.6 557.1L590.7 556.6L596.6 555.9L602.7 555.7L609.3 555.9L615.9 556.4L621.9 556.8L627.1 557.3L631.5 557.6L636.4 557.1L642.3 556L648.4 554.5L653.6 553L658.2 551.4L661.4 550.3L664 559.1L660.7 560.1L655.9 561.6L650.4 562.9L644.2 564.4L637.6 565.7L631.6 566.2L626.2 565.9L620.6 565.1L614.5 564.2L607.8 563L601.4 561.9L595.5 560.9L590 560.1L586.1 559.5z" fill="#bebe00"/>
<path d="M586.6 557.1L590.7 556.6L596.6 555.9L602.7 555.7L609.3 555.9L615.9 556.4L621.9 556.8L627.1 557.3L631.5 557.6L636.4 557.1L642.3 556L648.4 554.5L653.6 553L658.2 551.4L661.4 550.3L663.7 557.8L660.3 558.9L655.5 560.3L650.1 561.7L643.9 563.2L637.4 564.5L631.6 565L626.3 564.6L620.8 563.9L614.7 563.1L608.1 562L601.6 561L595.7 560.2L590.1 559.6L586.2 559.1z" fill="#cece00"/>
<path d="M586.6 557.1L590.7 556.6L596.6 555.9L602.7 555.7L609.3 555.9L615.9 556.4L621.9 556.8L627.1 557.3L631.5 557.6L636.4 557.1L642.3 556L648.4 554.5L653.6 553L658.2 551.4L661.4 550.3L663.3 556.6L660 557.6L655.2 559.1L649.8 560.5L643.6 562L637.2 563.3L631.6 563.8L626.5 563.4L621 562.7L614.9 562L608.3 561L601.8 560.1L595.8 559.5L590.2 559.1L586.3 558.8z" fill="#dede00"/>
<path d="M586.6 557.1L590.7 556.6L596.6 555.9L602.7 555.7L609.3 555.9L615.9 556.4L621.9 556.8L627.1 557.3L631.5 557.6L636.4 557.1L642.3 556L648.4 554.5L653.6 553L658.2 551.4L661.4 550.3L662.9 555.3L659.6 556.4L654.9 557.9L649.6 559.3L643.4 560.8L637.1 562.1L631.6 562.5L626.6 562.2L621.2 561.5L615.1 560.9L608.5 560L602 559.2L596 558.8L590.3 558.6L586.3 558.4z" fill="#e8e800"/>
<path d="M586.6 557.1L590.7 556.6L596.6 555.9L602.7 555.7L609.3 555.9L615.9 556.4L621.9 556.8L627.1 557.3L631.5 557.6L636.4 557.1L642.3 556L648.4 554.5L653.6 553L658.2 551.4L661.4 550.3L662.5 554.1L659.3 555.2L654.6 556.7L649.3 558.1L643.1 559.6L636.9 560.8L631.6 561.3L626.7 561L621.4 560.4L615.3 559.7L608.7 559L602.2 558.3L596.1 558.1L590.4 558.1L586.4 558.1z" fill="#f0f000"/>
<path d="M586.6 557.1L590.7 556.6L596.6 555.9L602.7 555.7L609.3 555.9L615.9 556.4L621.9 556.8L627.1 557.3L631.5 557.6L636.4 557.1L642.3 556L648.4 554.5L653.6 553L658.2 551.4L661.4 550.3L662.2 552.8L658.9 553.9L654.2 555.5L649 556.9L642.9 558.4L636.7 559.6L631.6 560.1L626.8 559.8L621.6 559.2L615.5 558.6L608.9 558L602.4 557.4L596.3 557.4L590.5 557.6L586.5 557.8z" fill="#f2f200"/>
<path d="M586.6 557.1L590.7 556.6L596.6 555.9L602.7 555.7L609.3 555.9L615.9 556.4L621.9 556.8L627.1 557.3L631.5 557.6L636.4 557.1L642.3 556L648.4 554.5L653.6 553L658.2 551.4L661.4 550.3L661.8 551.5L658.5 552.7L653.9 554.2L648.7 555.7L642.6 557.2L636.5 558.4L631.5 558.8L627 558.6L621.7 558L615.7 557.5L609.1 556.9L602.6 556.5L596.4 556.6L590.6 557.1L586.6 557.4z" fill="#dbdb00"/>
<ellipse cx="664.6" cy="561" rx="5.8" ry="11.2" transform="rotate(3 664.6 561)" fill="#ffff10"/><ellipse cx="664.6" cy="561" rx="2.7" ry="5" transform="rotate(3 664.6 561)" fill="#b98a2e"/>
<path d="M585.3 578.2L589.4 579.2L594.9 580.6L599.9 581.5L605 581.6L611.5 581.1L618.5 580.6L625.1 580L632.4 579.4L641.1 579.6L651.4 581.2L661.6 583.5L668.6 585.1L663 607.3L656.2 605.4L646.9 602.9L638.9 601.4L633.4 601.5L627.8 602.3L621.5 603.4L614.9 604.7L607.9 606.3L600.1 607.5L592.1 607.6L585.2 607.1L580.7 606.8z" fill="#542b2b"/>
<path d="M585.3 578.2L589.4 579.2L594.9 580.6L599.9 581.5L605 581.6L611.5 581.1L618.5 580.6L625.1 580L632.4 579.4L641.1 579.6L651.4 581.2L661.6 583.5L668.6 585.1L663.3 606.2L656.4 604.4L647.1 601.9L639 600.4L633.4 600.5L627.7 601.3L621.4 602.4L614.8 603.7L607.8 605.2L600.1 606.3L592.2 606.4L585.4 605.9L580.9 605.5z" fill="#5b3030"/>
<path d="M585.3 578.2L589.4 579.2L594.9 580.6L599.9 581.5L605 581.6L611.5 581.1L618.5 580.6L625.1 580L632.4 579.4L641.1 579.6L651.4 581.2L661.6 583.5L668.6 585.1L663.5 605.2L656.7 603.4L647.3 601L639.1 599.5L633.3 599.5L627.6 600.3L621.2 601.3L614.6 602.6L607.6 604.1L600.1 605.1L592.3 605.1L585.6 604.6L581.1 604.2z" fill="#623636"/>
<path d="M585.3 578.2L589.4 579.2L594.9 580.6L599.9 581.5L605 581.6L611.5 581.1L618.5 580.6L625.1 580L632.4 579.4L641.1 579.6L651.4 581.2L661.6 583.5L668.6 585.1L663.8 604.2L656.9 602.4L647.5 600L639.2 598.5L633.3 598.5L627.4 599.3L621.1 600.3L614.5 601.5L607.5 603L600.1 604L592.5 603.9L585.8 603.3L581.3 602.9z" fill="#693b3b"/>
<path d="M585.3 578.2L589.4 579.2L594.9 580.6L599.9 581.5L605 581.6L611.5 581.1L618.5 580.6L625.1 580L632.4 579.4L641.1 579.6L651.4 581.2L661.6 583.5L668.6 585.1L664 603.2L657.2 601.4L647.7 599L639.3 597.5L633.2 597.5L627.3 598.3L621 599.3L614.3 600.4L607.4 601.8L600.1 602.8L592.6 602.7L585.9 602.1L581.5 601.6z" fill="#714141"/>
<path d="M585.3 578.2L589.4 579.2L594.9 580.6L599.9 581.5L605 581.6L611.5 581.1L618.5 580.6L625.1 580L632.4 579.4L641.1 579.6L651.4 581.2L661.6 583.5L668.6 585.1L664.3 602.2L657.4 600.4L647.9 598L639.4 596.5L633.2 596.5L627.2 597.2L620.8 598.2L614.2 599.4L607.2 600.7L600.1 601.6L592.7 601.4L586.1 600.8L581.8 600.3z" fill="#7e4949"/>
<path d="M585.3 578.2L589.4 579.2L594.9 580.6L599.9 581.5L605 581.6L611.5 581.1L618.5 580.6L625.1 580L632.4 579.4L641.1 579.6L651.4 581.2L661.6 583.5L668.6 585.1L664.5 601.2L657.7 599.4L648.1 597L639.5 595.5L633.1 595.5L627.1 596.2L620.7 597.2L614 598.3L607.1 599.6L600.1 600.4L592.8 600.2L586.3 599.5L582 599z" fill="#8b5151"/>
<path d="M585.3 578.2L589.4 579.2L594.9 580.6L599.9 581.5L605 581.6L611.5 581.1L618.5 580.6L625.1 580L632.4 579.4L641.1 579.6L651.4 581.2L661.6 583.5L668.6 585.1L664.8 600.2L657.9 598.4L648.3 596L639.6 594.5L633.1 594.4L626.9 595.2L620.6 596.1L613.8 597.2L607 598.5L600 599.2L593 599L586.5 598.3L582.2 597.7z" fill="#975959"/>
<path d="M585.3 578.2L589.4 579.2L594.9 580.6L599.9 581.5L605 581.6L611.5 581.1L618.5 580.6L625.1 580L632.4 579.4L641.1 579.6L651.4 581.2L661.6 583.5L668.6 585.1L665 599.2L658.2 597.4L648.5 595L639.7 593.5L633.1 593.4L626.8 594.2L620.4 595.1L613.7 596.1L606.8 597.3L600 598L593.1 597.8L586.7 597L582.4 596.4z" fill="#a46262"/>
<path d="M585.3 578.2L589.4 579.2L594.9 580.6L599.9 581.5L605 581.6L611.5 581.1L618.5 580.6L625.1 580L632.4 579.4L641.1 579.6L651.4 581.2L661.6 583.5L668.6 585.1L665.3 598.2L658.4 596.4L648.7 594L639.8 592.5L633 592.4L626.7 593.2L620.3 594.1L613.5 595.1L606.7 596.2L600 596.9L593.2 596.5L586.9 595.7L582.6 595.1z" fill="#b26c6c"/>
<path d="M585.3 578.2L589.4 579.2L594.9 580.6L599.9 581.5L605 581.6L611.5 581.1L618.5 580.6L625.1 580L632.4 579.4L641.1 579.6L651.4 581.2L661.6 583.5L668.6 585.1L665.5 597.2L658.7 595.4L648.9 593.1L639.9 591.5L633 591.4L626.6 592.2L620.1 593L613.4 594L606.6 595.1L600 595.7L593.4 595.3L587.1 594.5L582.8 593.8z" fill="#c17777"/>
<path d="M585.3 578.2L589.4 579.2L594.9 580.6L599.9 581.5L605 581.6L611.5 581.1L618.5 580.6L625.1 580L632.4 579.4L641.1 579.6L651.4 581.2L661.6 583.5L668.6 585.1L665.8 596.2L658.9 594.5L649.1 592.1L640 590.5L632.9 590.4L626.5 591.2L620 592L613.2 592.9L606.4 594L600 594.5L593.5 594.1L587.3 593.2L583 592.5z" fill="#cf8181"/>
<path d="M585.3 578.2L589.4 579.2L594.9 580.6L599.9 581.5L605 581.6L611.5 581.1L618.5 580.6L625.1 580L632.4 579.4L641.1 579.6L651.4 581.2L661.6 583.5L668.6 585.1L666.1 595.2L659.1 593.5L649.3 591.1L640.1 589.5L632.9 589.4L626.3 590.1L619.9 591L613.1 591.9L606.3 592.8L600 593.3L593.6 592.9L587.5 591.9L583.2 591.2z" fill="#de8c8c"/>
<path d="M585.3 578.2L589.4 579.2L594.9 580.6L599.9 581.5L605 581.6L611.5 581.1L618.5 580.6L625.1 580L632.4 579.4L641.1 579.6L651.4 581.2L661.6 583.5L668.6 585.1L666.3 594.2L659.4 592.5L649.5 590.1L640.2 588.5L632.8 588.4L626.2 589.1L619.7 589.9L612.9 590.8L606.2 591.7L600 592.1L593.7 591.6L587.7 590.6L583.4 589.9z" fill="#ea9696"/>
<path d="M585.3 578.2L589.4 579.2L594.9 580.6L599.9 581.5L605 581.6L611.5 581.1L618.5 580.6L625.1 580L632.4 579.4L641.1 579.6L651.4 581.2L661.6 583.5L668.6 585.1L666.6 593.2L659.6 591.5L649.7 589.1L640.3 587.5L632.8 587.4L626.1 588.1L619.6 588.9L612.8 589.7L606 590.6L600 591L593.9 590.4L587.9 589.4L583.6 588.6z" fill="#ef9c9c"/>
<path d="M585.3 578.2L589.4 579.2L594.9 580.6L599.9 581.5L605 581.6L611.5 581.1L618.5 580.6L625.1 580L632.4 579.4L641.1 579.6L651.4 581.2L661.6 583.5L668.6 585.1L666.8 592.2L659.9 590.5L650 588.1L640.4 586.5L632.7 586.4L626 587.1L619.4 587.9L612.6 588.6L605.9 589.5L600 589.8L594 589.2L588.1 588.1L583.8 587.3z" fill="#f4a3a3"/>
<path d="M585.3 578.2L589.4 579.2L594.9 580.6L599.9 581.5L605 581.6L611.5 581.1L618.5 580.6L625.1 580L632.4 579.4L641.1 579.6L651.4 581.2L661.6 583.5L668.6 585.1L667.1 591.2L660.1 589.5L650.2 587.1L640.5 585.5L632.7 585.4L625.8 586.1L619.3 586.8L612.4 587.6L605.8 588.3L599.9 588.6L594.1 588L588.3 586.8L584 586z" fill="#f9a9a9"/>
<path d="M585.3 578.2L589.4 579.2L594.9 580.6L599.9 581.5L605 581.6L611.5 581.1L618.5 580.6L625.1 580L632.4 579.4L641.1 579.6L651.4 581.2L661.6 583.5L668.6 585.1L667.3 590.2L660.4 588.5L650.4 586.2L640.6 584.5L632.6 584.4L625.7 585.1L619.2 585.8L612.3 586.5L605.6 587.2L599.9 587.4L594.2 586.7L588.5 585.6L584.2 584.7z" fill="#feafaf"/>
<path d="M585.3 578.2L589.4 579.2L594.9 580.6L599.9 581.5L605 581.6L611.5 581.1L618.5 580.6L625.1 580L632.4 579.4L641.1 579.6L651.4 581.2L661.6 583.5L668.6 585.1L667.6 589.2L660.6 587.5L650.6 585.2L640.7 583.5L632.6 583.4L625.6 584.1L619 584.7L612.1 585.4L605.5 586.1L599.9 586.2L594.4 585.5L588.6 584.3L584.5 583.4z" fill="#ffb3b3"/>
<path d="M585.3 578.2L589.4 579.2L594.9 580.6L599.9 581.5L605 581.6L611.5 581.1L618.5 580.6L625.1 580L632.4 579.4L641.1 579.6L651.4 581.2L661.6 583.5L668.6 585.1L667.8 588.2L660.9 586.5L650.8 584.2L640.8 582.5L632.5 582.4L625.5 583.1L618.9 583.7L612 584.3L605.4 585L599.9 585L594.5 584.3L588.8 583L584.7 582.1z" fill="#ffb7b7"/>
<path d="M585.3 578.2L589.4 579.2L594.9 580.6L599.9 581.5L605 581.6L611.5 581.1L618.5 580.6L625.1 580L632.4 579.4L641.1 579.6L651.4 581.2L661.6 583.5L668.6 585.1L668.1 587.2L661.1 585.5L651 583.2L640.9 581.5L632.5 581.4L625.3 582L618.8 582.7L611.8 583.3L605.2 583.8L599.9 583.9L594.6 583.1L589 581.8L584.9 580.8z" fill="#ffbbbb"/>
<path d="M585.3 578.2L589.4 579.2L594.9 580.6L599.9 581.5L605 581.6L611.5 581.1L618.5 580.6L625.1 580L632.4 579.4L641.1 579.6L651.4 581.2L661.6 583.5L668.6 585.1L668.3 586.2L661.4 584.5L651.2 582.2L641 580.6L632.4 580.4L625.2 581L618.6 581.6L611.7 582.2L605.1 582.7L599.9 582.7L594.8 581.8L589.2 580.5L585.1 579.5z" fill="#ffbebe"/>
<ellipse cx="665.8" cy="596.2" rx="6" ry="11.4" transform="rotate(8 665.8 596.2)" fill="#ff9c9c"/><ellipse cx="665.8" cy="596.2" rx="2.8" ry="5.1" transform="rotate(8 665.8 596.2)" fill="#b98a2e"/>
<path d="M584.8 597L590.1 597.2L597.6 597.4L604.4 597.8L610.4 598.2L616.4 598.6L622.6 599L629.1 599.4L637.5 599.7L648.4 600.1L656.5 600.4L655.1 622.8L647 622.1L635.9 621L627.1 619.9L620.1 618.7L613.6 617.4L607.4 615.8L601.7 614.2L595.6 612.6L588.5 611.1L583.2 610z" fill="#5f2f2f"/>
<path d="M584.8 597L590.1 597.2L597.6 597.4L604.4 597.8L610.4 598.2L616.4 598.6L622.6 599L629.1 599.4L637.5 599.7L648.4 600.1L656.5 600.4L655.2 621.5L647 620.8L636 619.8L627.2 618.7L620.2 617.6L613.8 616.3L607.6 614.8L601.9 613.2L595.7 611.7L588.5 610.3L583.3 609.2z" fill="#683535"/>
<path d="M584.8 597L590.1 597.2L597.6 597.4L604.4 597.8L610.4 598.2L616.4 598.6L622.6 599L629.1 599.4L637.5 599.7L648.4 600.1L656.5 600.4L655.3 620.1L647.1 619.5L636.1 618.5L627.4 617.5L620.4 616.4L613.9 615.2L607.8 613.7L602 612.2L595.8 610.9L588.6 609.4L583.4 608.4z" fill="#713c3c"/>
<path d="M584.8 597L590.1 597.2L597.6 597.4L604.4 597.8L610.4 598.2L616.4 598.6L622.6 599L629.1 599.4L637.5 599.7L648.4 600.1L656.5 600.4L655.4 618.8L647.2 618.2L636.2 617.3L627.5 616.3L620.5 615.2L614.1 614.1L607.9 612.7L602.2 611.3L595.9 610L588.7 608.6L583.5 607.7z" fill="#7a4242"/>
<path d="M584.8 597L590.1 597.2L597.6 597.4L604.4 597.8L610.4 598.2L616.4 598.6L622.6 599L629.1 599.4L637.5 599.7L648.4 600.1L656.5 600.4L655.4 617.5L647.3 616.9L636.3 616L627.6 615.1L620.7 614.1L614.3 613L608.1 611.7L602.3 610.3L596.1 609.1L588.8 607.8L583.6 606.9z" fill="#834848"/>
<path d="M584.8 597L590.1 597.2L597.6 597.4L604.4 597.8L610.4 598.2L616.4 598.6L622.6 599L629.1 599.4L637.5 599.7L648.4 600.1L656.5 600.4L655.5 616.2L647.4 615.6L636.4 614.8L627.7 613.9L620.8 612.9L614.4 611.9L608.3 610.6L602.5 609.4L596.2 608.2L588.9 607L583.7 606.2z" fill="#8d5050"/>
<path d="M584.8 597L590.1 597.2L597.6 597.4L604.4 597.8L610.4 598.2L616.4 598.6L622.6 599L629.1 599.4L637.5 599.7L648.4 600.1L656.5 600.4L655.6 614.9L647.5 614.3L636.5 613.5L627.8 612.7L621 611.8L614.6 610.8L608.5 609.6L602.6 608.4L596.3 607.3L589 606.2L583.8 605.4z" fill="#985959"/>
<path d="M584.8 597L590.1 597.2L597.6 597.4L604.4 597.8L610.4 598.2L616.4 598.6L622.6 599L629.1 599.4L637.5 599.7L648.4 600.1L656.5 600.4L655.7 613.6L647.5 613L636.6 612.2L628 611.4L621.1 610.6L614.8 609.7L608.6 608.6L602.8 607.4L596.4 606.4L589.1 605.4L583.9 604.6z" fill="#a46161"/>
<path d="M584.8 597L590.1 597.2L597.6 597.4L604.4 597.8L610.4 598.2L616.4 598.6L622.6 599L629.1 599.4L637.5 599.7L648.4 600.1L656.5 600.4L655.8 612.3L647.6 611.7L636.7 611L628.1 610.2L621.3 609.4L614.9 608.6L608.8 607.5L603 606.5L596.5 605.5L589.2 604.5L584 603.9z" fill="#b06a6a"/>
<path d="M584.8 597L590.1 597.2L597.6 597.4L604.4 597.8L610.4 598.2L616.4 598.6L622.6 599L629.1 599.4L637.5 599.7L648.4 600.1L656.5 600.4L655.8 610.9L647.7 610.4L636.8 609.7L628.2 609L621.4 608.3L615.1 607.4L609 606.5L603.1 605.5L596.7 604.6L589.3 603.7L584 603.1z" fill="#bc7373"/>
<path d="M584.8 597L590.1 597.2L597.6 597.4L604.4 597.8L610.4 598.2L616.4 598.6L622.6 599L629.1 599.4L637.5 599.7L648.4 600.1L656.5 600.4L655.9 609.6L647.8 609.2L636.8 608.5L628.3 607.8L621.5 607.1L615.2 606.3L609.2 605.5L603.3 604.5L596.8 603.7L589.4 602.9L584.1 602.4z" fill="#c87d7d"/>
<path d="M584.8 597L590.1 597.2L597.6 597.4L604.4 597.8L610.4 598.2L616.4 598.6L622.6 599L629.1 599.4L637.5 599.7L648.4 600.1L656.5 600.4L656 608.3L647.9 607.9L636.9 607.2L628.4 606.6L621.7 606L615.4 605.2L609.3 604.4L603.4 603.6L596.9 602.8L589.5 602.1L584.2 601.6z" fill="#d38686"/>
<path d="M584.8 597L590.1 597.2L597.6 597.4L604.4 597.8L610.4 598.2L616.4 598.6L622.6 599L629.1 599.4L637.5 599.7L648.4 600.1L656.5 600.4L656.1 607L648 606.6L637 606L628.6 605.4L621.8 604.8L615.6 604.1L609.5 603.4L603.6 602.6L597 601.9L589.6 601.3L584.3 600.8z" fill="#df9090"/>
<path d="M584.8 597L590.1 597.2L597.6 597.4L604.4 597.8L610.4 598.2L616.4 598.6L622.6 599L629.1 599.4L637.5 599.7L648.4 600.1L656.5 600.4L656.2 605.7L648 605.3L637.1 604.7L628.7 604.2L622 603.6L615.7 603L609.7 602.3L603.7 601.6L597.1 601L589.7 600.5L584.4 600.1z" fill="#e79898"/>
<path d="M584.8 597L590.1 597.2L597.6 597.4L604.4 597.8L610.4 598.2L616.4 598.6L622.6 599L629.1 599.4L637.5 599.7L648.4 600.1L656.5 600.4L656.2 604.4L648.1 604L637.2 603.5L628.8 603L622.1 602.5L615.9 601.9L609.9 601.3L603.9 600.7L597.3 600.1L589.8 599.6L584.5 599.3z" fill="#eda0a0"/>
<path d="M584.8 597L590.1 597.2L597.6 597.4L604.4 597.8L610.4 598.2L616.4 598.6L622.6 599L629.1 599.4L637.5 599.7L648.4 600.1L656.5 600.4L656.3 603.1L648.2 602.7L637.3 602.2L628.9 601.8L622.3 601.3L616.1 600.8L610 600.3L604 599.7L597.4 599.2L589.9 598.8L584.6 598.6z" fill="#efa2a2"/>
<path d="M584.8 597L590.1 597.2L597.6 597.4L604.4 597.8L610.4 598.2L616.4 598.6L622.6 599L629.1 599.4L637.5 599.7L648.4 600.1L656.5 600.4L656.4 601.7L648.3 601.4L637.4 601L629 600.6L622.4 600.1L616.2 599.7L610.2 599.2L604.2 598.7L597.5 598.3L590 598L584.7 597.8z" fill="#e09191"/>
<ellipse cx="655.8" cy="611.6" rx="6" ry="11.2" transform="rotate(8 655.8 611.6)" fill="#ff9c9c"/><ellipse cx="655.8" cy="611.6" rx="2.8" ry="5" transform="rotate(8 655.8 611.6)" fill="#b98a2e"/>
<path d="M668.1 635.5L673.8 635.2L681.8 634.7L690.4 634L698.4 633.1L706.9 631.6L716.7 629.6L725.9 627.7L732.4 626.3L738.8 658.9L732.4 660.1L722.9 661.9L712.1 663.7L701.6 664.9L691.6 665.1L681.8 664.6L673.5 663.9L667.9 663.5z" fill="#0d0d0d"/>
<path d="M668.1 635.5L673.8 635.2L681.8 634.7L690.4 634L698.4 633.1L706.9 631.6L716.7 629.6L725.9 627.7L732.4 626.3L738.6 657.6L732.1 658.8L722.7 660.7L711.9 662.5L701.5 663.7L691.5 663.9L681.8 663.5L673.5 662.8L667.9 662.4z" fill="#0f0f0f"/>
<path d="M668.1 635.5L673.8 635.2L681.8 634.7L690.4 634L698.4 633.1L706.9 631.6L716.7 629.6L725.9 627.7L732.4 626.3L738.3 656.4L731.9 657.6L722.4 659.4L711.7 661.2L701.4 662.5L691.5 662.7L681.8 662.3L673.5 661.7L667.9 661.3z" fill="#111111"/>
<path d="M668.1 635.5L673.8 635.2L681.8 634.7L690.4 634L698.4 633.1L706.9 631.6L716.7 629.6L725.9 627.7L732.4 626.3L738.1 655.1L731.6 656.4L722.2 658.2L711.5 660L701.2 661.2L691.4 661.5L681.8 661.2L673.5 660.6L667.9 660.3z" fill="#131313"/>
<path d="M668.1 635.5L673.8 635.2L681.8 634.7L690.4 634L698.4 633.1L706.9 631.6L716.7 629.6L725.9 627.7L732.4 626.3L737.8 653.9L731.4 655.1L721.9 656.9L711.3 658.8L701.1 660L691.4 660.3L681.8 660L673.6 659.5L667.9 659.2z" fill="#151515"/>
<path d="M668.1 635.5L673.8 635.2L681.8 634.7L690.4 634L698.4 633.1L706.9 631.6L716.7 629.6L725.9 627.7L732.4 626.3L737.6 652.6L731.1 653.9L721.7 655.7L711.1 657.5L701 658.8L691.3 659.1L681.8 658.9L673.6 658.4L667.9 658.1z" fill="#171717"/>
<path d="M668.1 635.5L673.8 635.2L681.8 634.7L690.4 634L698.4 633.1L706.9 631.6L716.7 629.6L725.9 627.7L732.4 626.3L737.3 651.4L730.9 652.6L721.5 654.5L710.9 656.3L700.9 657.6L691.3 657.9L681.8 657.7L673.6 657.3L667.9 657z" fill="#191919"/>
<path d="M668.1 635.5L673.8 635.2L681.8 634.7L690.4 634L698.4 633.1L706.9 631.6L716.7 629.6L725.9 627.7L732.4 626.3L737.1 650.1L730.6 651.4L721.2 653.2L710.7 655.1L700.7 656.3L691.3 656.7L681.8 656.6L673.6 656.2L667.9 656z" fill="#1b1b1b"/>
<path d="M668.1 635.5L673.8 635.2L681.8 634.7L690.4 634L698.4 633.1L706.9 631.6L716.7 629.6L725.9 627.7L732.4 626.3L736.8 648.9L730.4 650.1L721 652L710.5 653.8L700.6 655.1L691.2 655.5L681.8 655.4L673.6 655.1L668 654.9z" fill="#1d1d1d"/>
<path d="M668.1 635.5L673.8 635.2L681.8 634.7L690.4 634L698.4 633.1L706.9 631.6L716.7 629.6L725.9 627.7L732.4 626.3L736.6 647.6L730.1 648.9L720.8 650.7L710.3 652.6L700.5 653.9L691.2 654.3L681.8 654.3L673.6 654L668 653.8z" fill="#1f1f1f"/>
<path d="M668.1 635.5L673.8 635.2L681.8 634.7L690.4 634L698.4 633.1L706.9 631.6L716.7 629.6L725.9 627.7L732.4 626.3L736.3 646.4L729.9 647.6L720.5 649.5L710.1 651.4L700.4 652.7L691.1 653.1L681.8 653.1L673.6 652.9L668 652.7z" fill="#212121"/>
<path d="M668.1 635.5L673.8 635.2L681.8 634.7L690.4 634L698.4 633.1L706.9 631.6L716.7 629.6L725.9 627.7L732.4 626.3L736.1 645.1L729.6 646.4L720.3 648.3L709.9 650.1L700.2 651.4L691.1 651.9L681.8 652L673.6 651.8L668 651.7z" fill="#222222"/>
<path d="M668.1 635.5L673.8 635.2L681.8 634.7L690.4 634L698.4 633.1L706.9 631.6L716.7 629.6L725.9 627.7L732.4 626.3L735.8 643.9L729.4 645.1L720 647L709.7 648.9L700.1 650.2L691 650.7L681.8 650.8L673.7 650.7L668 650.6z" fill="#242424"/>
<path d="M668.1 635.5L673.8 635.2L681.8 634.7L690.4 634L698.4 633.1L706.9 631.6L716.7 629.6L725.9 627.7L732.4 626.3L735.6 642.6L729.1 643.9L719.8 645.8L709.5 647.7L700 649L691 649.6L681.8 649.6L673.7 649.5L668 649.5z" fill="#262626"/>
<path d="M668.1 635.5L673.8 635.2L681.8 634.7L690.4 634L698.4 633.1L706.9 631.6L716.7 629.6L725.9 627.7L732.4 626.3L735.4 641.3L728.9 642.6L719.6 644.5L709.3 646.4L699.9 647.8L691 648.4L681.8 648.5L673.7 648.4L668 648.4z" fill="#282828"/>
<path d="M668.1 635.5L673.8 635.2L681.8 634.7L690.4 634L698.4 633.1L706.9 631.6L716.7 629.6L725.9 627.7L732.4 626.3L735.1 640.1L728.6 641.4L719.3 643.3L709.1 645.2L699.8 646.6L690.9 647.2L681.8 647.3L673.7 647.3L668 647.3z" fill="#292929"/>
<path d="M668.1 635.5L673.8 635.2L681.8 634.7L690.4 634L698.4 633.1L706.9 631.6L716.7 629.6L725.9 627.7L732.4 626.3L734.9 638.8L728.4 640.1L719.1 642L708.9 644L699.6 645.3L690.9 646L681.8 646.2L673.7 646.2L668 646.3z" fill="#2b2b2b"/>
<path d="M668.1 635.5L673.8 635.2L681.8 634.7L690.4 634L698.4 633.1L706.9 631.6L716.7 629.6L725.9 627.7L732.4 626.3L734.6 637.6L728.1 638.9L718.8 640.8L708.7 642.7L699.5 644.1L690.8 644.8L681.8 645L673.7 645.1L668 645.2z" fill="#2d2d2d"/>
<path d="M668.1 635.5L673.8 635.2L681.8 634.7L690.4 634L698.4 633.1L706.9 631.6L716.7 629.6L725.9 627.7L732.4 626.3L734.4 636.3L727.9 637.7L718.6 639.6L708.5 641.5L699.4 642.9L690.8 643.6L681.8 643.9L673.7 644L668 644.1z" fill="#2e2e2e"/>
<path d="M668.1 635.5L673.8 635.2L681.8 634.7L690.4 634L698.4 633.1L706.9 631.6L716.7 629.6L725.9 627.7L732.4 626.3L734.1 635.1L727.6 636.4L718.4 638.3L708.3 640.3L699.3 641.7L690.7 642.4L681.8 642.7L673.7 642.9L668.1 643z" fill="#303030"/>
<path d="M668.1 635.5L673.8 635.2L681.8 634.7L690.4 634L698.4 633.1L706.9 631.6L716.7 629.6L725.9 627.7L732.4 626.3L733.9 633.8L727.4 635.2L718.1 637.1L708.1 639L699.1 640.4L690.7 641.2L681.8 641.6L673.8 641.8L668.1 642z" fill="#323232"/>
<path d="M668.1 635.5L673.8 635.2L681.8 634.7L690.4 634L698.4 633.1L706.9 631.6L716.7 629.6L725.9 627.7L732.4 626.3L733.6 632.6L727.1 633.9L717.9 635.8L707.9 637.8L699 639.2L690.7 640L681.8 640.4L673.8 640.7L668.1 640.9z" fill="#333333"/>
<path d="M668.1 635.5L673.8 635.2L681.8 634.7L690.4 634L698.4 633.1L706.9 631.6L716.7 629.6L725.9 627.7L732.4 626.3L733.4 631.3L726.9 632.7L717.7 634.6L707.7 636.6L698.9 638L690.6 638.8L681.8 639.3L673.8 639.6L668.1 639.8z" fill="#353535"/>
<path d="M668.1 635.5L673.8 635.2L681.8 634.7L690.4 634L698.4 633.1L706.9 631.6L716.7 629.6L725.9 627.7L732.4 626.3L733.1 630.1L726.6 631.4L717.4 633.4L707.5 635.3L698.8 636.8L690.6 637.6L681.8 638.1L673.8 638.5L668.1 638.7z" fill="#363636"/>
<path d="M668.1 635.5L673.8 635.2L681.8 634.7L690.4 634L698.4 633.1L706.9 631.6L716.7 629.6L725.9 627.7L732.4 626.3L732.9 628.8L726.4 630.2L717.2 632.1L707.3 634.1L698.6 635.5L690.5 636.4L681.8 637L673.8 637.4L668.1 637.7z" fill="#383838"/>
<path d="M668.1 635.5L673.8 635.2L681.8 634.7L690.4 634L698.4 633.1L706.9 631.6L716.7 629.6L725.9 627.7L732.4 626.3L732.6 627.6L726.1 628.9L716.9 630.9L707.1 632.8L698.5 634.3L690.5 635.2L681.8 635.8L673.8 636.3L668.1 636.6z" fill="#393939"/>
<ellipse cx="735.6" cy="642.6" rx="8.4" ry="16.6" transform="rotate(-11.2 735.6 642.6)" fill="#3e3e3e"/>
<path d="M584.6 610L588.4 610.4L594.1 610.9L600.6 611.9L606.8 613.4L612.8 615.3L619 617.6L625.4 620.5L631.9 624L638.3 627.5L644.3 630.6L649.9 633.5L655 635.8L659.6 637.5L665 638.9L670.6 640L674.7 640.8L668.9 661.6L665 660.2L659.1 658L652.6 655.3L646.7 652.2L641.4 648.9L636.3 645.7L630.6 642.8L624.2 640.1L617.9 637.6L612.3 635.6L606.9 633.9L601.9 632.6L597.2 631.7L592.2 631.2L587.1 631.1L583.4 631z" fill="#184363"/>
<path d="M584.6 610L588.4 610.4L594.1 610.9L600.6 611.9L606.8 613.4L612.8 615.3L619 617.6L625.4 620.5L631.9 624L638.3 627.5L644.3 630.6L649.9 633.5L655 635.8L659.6 637.5L665 638.9L670.6 640L674.7 640.8L669.2 660.4L665.3 659L659.4 656.9L653 654.3L647.2 651.3L641.9 648L636.7 644.8L631 641.9L624.6 639.1L618.4 636.6L612.7 634.5L607.3 632.8L602.1 631.5L597.4 630.5L592.3 630L587.2 629.9L583.4 629.7z" fill="#1b4b6d"/>
<path d="M584.6 610L588.4 610.4L594.1 610.9L600.6 611.9L606.8 613.4L612.8 615.3L619 617.6L625.4 620.5L631.9 624L638.3 627.5L644.3 630.6L649.9 633.5L655 635.8L659.6 637.5L665 638.9L670.6 640L674.7 640.8L669.6 659.2L665.6 657.8L659.8 655.8L653.4 653.2L647.7 650.3L642.4 647.1L637.2 643.9L631.5 641L625.1 638.2L618.8 635.6L613.1 633.5L607.6 631.7L602.4 630.3L597.6 629.4L592.4 628.9L587.3 628.6L583.5 628.5z" fill="#1e5477"/>
<path d="M584.6 610L588.4 610.4L594.1 610.9L600.6 611.9L606.8 613.4L612.8 615.3L619 617.6L625.4 620.5L631.9 624L638.3 627.5L644.3 630.6L649.9 633.5L655 635.8L659.6 637.5L665 638.9L670.6 640L674.7 640.8L669.9 657.9L666 656.6L660.1 654.6L653.8 652.2L648.2 649.3L642.9 646.1L637.7 643L631.9 640.1L625.6 637.2L619.3 634.6L613.5 632.4L608 630.6L602.7 629.2L597.8 628.2L592.5 627.7L587.3 627.4L583.6 627.3z" fill="#225c81"/>
<path d="M584.6 610L588.4 610.4L594.1 610.9L600.6 611.9L606.8 613.4L612.8 615.3L619 617.6L625.4 620.5L631.9 624L638.3 627.5L644.3 630.6L649.9 633.5L655 635.8L659.6 637.5L665 638.9L670.6 640L674.7 640.8L670.3 656.7L666.3 655.4L660.5 653.5L654.2 651.2L648.6 648.4L643.4 645.2L638.1 642.2L632.4 639.2L626 636.3L619.7 633.6L613.9 631.3L608.3 629.5L603 628.1L598 627L592.6 626.5L587.4 626.2L583.7 626z" fill="#25648b"/>
<path d="M584.6 610L588.4 610.4L594.1 610.9L600.6 611.9L606.8 613.4L612.8 615.3L619 617.6L625.4 620.5L631.9 624L638.3 627.5L644.3 630.6L649.9 633.5L655 635.8L659.6 637.5L665 638.9L670.6 640L674.7 640.8L670.6 655.5L666.6 654.2L660.8 652.4L654.6 650.1L649.1 647.4L643.9 644.3L638.6 641.3L632.8 638.3L626.5 635.3L620.1 632.6L614.2 630.3L608.7 628.4L603.3 626.9L598.2 625.9L592.7 625.3L587.5 625L583.7 624.8z" fill="#296d95"/>
<path d="M584.6 610L588.4 610.4L594.1 610.9L600.6 611.9L606.8 613.4L612.8 615.3L619 617.6L625.4 620.5L631.9 624L638.3 627.5L644.3 630.6L649.9 633.5L655 635.8L659.6 637.5L665 638.9L670.6 640L674.7 640.8L670.9 654.3L667 653.1L661.2 651.3L655.1 649.1L649.6 646.4L644.4 643.4L639.1 640.4L633.3 637.4L626.9 634.4L620.6 631.6L614.6 629.2L609 627.3L603.6 625.8L598.4 624.7L592.9 624.1L587.6 623.8L583.8 623.6z" fill="#327da6"/>
<path d="M584.6 610L588.4 610.4L594.1 610.9L600.6 611.9L606.8 613.4L612.8 615.3L619 617.6L625.4 620.5L631.9 624L638.3 627.5L644.3 630.6L649.9 633.5L655 635.8L659.6 637.5L665 638.9L670.6 640L674.7 640.8L671.3 653L667.3 651.9L661.5 650.1L655.5 648L650.1 645.5L644.9 642.5L639.6 639.5L633.7 636.5L627.4 633.4L621 630.5L615 628.2L609.4 626.2L603.9 624.7L598.6 623.5L593 622.9L587.6 622.6L583.9 622.3z" fill="#3b8eb8"/>
<path d="M584.6 610L588.4 610.4L594.1 610.9L600.6 611.9L606.8 613.4L612.8 615.3L619 617.6L625.4 620.5L631.9 624L638.3 627.5L644.3 630.6L649.9 633.5L655 635.8L659.6 637.5L665 638.9L670.6 640L674.7 640.8L671.6 651.8L667.6 650.7L661.9 649L655.9 647L650.6 644.5L645.4 641.6L640 638.6L634.2 635.6L627.8 632.5L621.4 629.5L615.4 627.1L609.7 625.1L604.2 623.6L598.8 622.4L593.1 621.7L587.7 621.3L584 621.1z" fill="#449ec9"/>
<path d="M584.6 610L588.4 610.4L594.1 610.9L600.6 611.9L606.8 613.4L612.8 615.3L619 617.6L625.4 620.5L631.9 624L638.3 627.5L644.3 630.6L649.9 633.5L655 635.8L659.6 637.5L665 638.9L670.6 640L674.7 640.8L672 650.6L668 649.5L662.2 647.9L656.3 645.9L651.1 643.5L645.9 640.7L640.5 637.7L634.6 634.7L628.3 631.6L621.9 628.5L615.8 626.1L610.1 624.1L604.5 622.4L599 621.2L593.2 620.5L587.8 620.1L584 619.9z" fill="#4eaeda"/>
<path d="M584.6 610L588.4 610.4L594.1 610.9L600.6 611.9L606.8 613.4L612.8 615.3L619 617.6L625.4 620.5L631.9 624L638.3 627.5L644.3 630.6L649.9 633.5L655 635.8L659.6 637.5L665 638.9L670.6 640L674.7 640.8L672.3 649.4L668.3 648.3L662.6 646.8L656.7 644.9L651.6 642.6L646.4 639.8L641 636.8L635.1 633.8L628.7 630.6L622.3 627.5L616.2 625L610.4 623L604.7 621.3L599.2 620L593.3 619.3L587.9 618.9L584.1 618.7z" fill="#58bee4"/>
<path d="M584.6 610L588.4 610.4L594.1 610.9L600.6 611.9L606.8 613.4L612.8 615.3L619 617.6L625.4 620.5L631.9 624L638.3 627.5L644.3 630.6L649.9 633.5L655 635.8L659.6 637.5L665 638.9L670.6 640L674.7 640.8L672.7 648.1L668.6 647.1L662.9 645.6L657.1 643.8L652.1 641.6L646.9 638.9L641.4 636L635.5 632.9L629.2 629.7L622.8 626.5L616.6 624L610.7 621.9L605 620.2L599.4 618.9L593.4 618.1L587.9 617.7L584.2 617.4z" fill="#63cdef"/>
<path d="M584.6 610L588.4 610.4L594.1 610.9L600.6 611.9L606.8 613.4L612.8 615.3L619 617.6L625.4 620.5L631.9 624L638.3 627.5L644.3 630.6L649.9 633.5L655 635.8L659.6 637.5L665 638.9L670.6 640L674.7 640.8L673 646.9L669 645.9L663.3 644.5L657.5 642.8L652.5 640.7L647.4 638L641.9 635.1L636 632L629.7 628.7L623.2 625.5L617 622.9L611.1 620.8L605.3 619.1L599.6 617.7L593.6 616.9L588 616.5L584.3 616.2z" fill="#6ddcf9"/>
<path d="M584.6 610L588.4 610.4L594.1 610.9L600.6 611.9L606.8 613.4L612.8 615.3L619 617.6L625.4 620.5L631.9 624L638.3 627.5L644.3 630.6L649.9 633.5L655 635.8L659.6 637.5L665 638.9L670.6 640L674.7 640.8L673.3 645.7L669.3 644.7L663.6 643.4L657.9 641.7L653 639.7L647.9 637.1L642.4 634.2L636.4 631.1L630.1 627.8L623.6 624.5L617.4 621.8L611.4 619.7L605.6 617.9L599.8 616.6L593.7 615.7L588.1 615.2L584.3 615z" fill="#73e2fd"/>
<path d="M584.6 610L588.4 610.4L594.1 610.9L600.6 611.9L606.8 613.4L612.8 615.3L619 617.6L625.4 620.5L631.9 624L638.3 627.5L644.3 630.6L649.9 633.5L655 635.8L659.6 637.5L665 638.9L670.6 640L674.7 640.8L673.7 644.5L669.6 643.6L664 642.3L658.4 640.7L653.5 638.7L648.4 636.2L642.9 633.3L636.9 630.2L630.6 626.8L624.1 623.5L617.8 620.8L611.8 618.6L605.9 616.8L600 615.4L593.8 614.5L588.2 614L584.4 613.7z" fill="#77e5fd"/>
<path d="M584.6 610L588.4 610.4L594.1 610.9L600.6 611.9L606.8 613.4L612.8 615.3L619 617.6L625.4 620.5L631.9 624L638.3 627.5L644.3 630.6L649.9 633.5L655 635.8L659.6 637.5L665 638.9L670.6 640L674.7 640.8L674 643.2L670 642.4L664.3 641.1L658.8 639.6L654 637.8L648.9 635.3L643.3 632.4L637.4 629.3L631 625.9L624.5 622.5L618.2 619.7L612.1 617.5L606.2 615.7L600.2 614.2L593.9 613.3L588.3 612.8L584.5 612.5z" fill="#7ae8fe"/>
<path d="M584.6 610L588.4 610.4L594.1 610.9L600.6 611.9L606.8 613.4L612.8 615.3L619 617.6L625.4 620.5L631.9 624L638.3 627.5L644.3 630.6L649.9 633.5L655 635.8L659.6 637.5L665 638.9L670.6 640L674.7 640.8L674.4 642L670.3 641.2L664.7 640L659.2 638.6L654.5 636.8L649.4 634.4L643.8 631.5L637.8 628.4L631.5 625L625 621.5L618.6 618.7L612.5 616.4L606.5 614.5L600.4 613.1L594 612.1L588.3 611.6L584.6 611.3z" fill="#7eebff"/>
<ellipse cx="671.8" cy="651.2" rx="6.6" ry="10.8" transform="rotate(4 671.8 651.2)" fill="#66ccff"/><ellipse cx="671.8" cy="651.2" rx="3.1" ry="4.9" transform="rotate(4 671.8 651.2)" fill="#b98a2e"/>
<path d="M589.1 632.1L594 631.6L600.7 630.8L605.7 629.9L608.4 629.3L611.4 628.6L615.9 627.4L621.8 625.6L628.6 623.6L635.3 622.1L641.9 621L649 620L657.3 619.4L666.1 619L672.2 618.8L673.8 640.4L667.8 641L659.5 642L652.2 643.1L646.3 644.5L640.3 645.9L634.1 647.2L627.4 648.5L620.6 649.7L614.8 650.4L609.9 650.8L604.3 650.2L597.8 647.9L591.4 644.4L586.9 641.9z" fill="#15405f"/>
<path d="M589.1 632.1L594 631.6L600.7 630.8L605.7 629.9L608.4 629.3L611.4 628.6L615.9 627.4L621.8 625.6L628.6 623.6L635.3 622.1L641.9 621L649 620L657.3 619.4L666.1 619L672.2 618.8L673.7 639.2L667.7 639.9L659.4 640.8L652.1 641.9L646 643.2L640.1 644.7L633.8 646L627.1 647.3L620.4 648.5L614.7 649.2L609.8 649.7L604.3 649.2L598 647L591.5 643.8L587.1 641.4z" fill="#184769"/>
<path d="M589.1 632.1L594 631.6L600.7 630.8L605.7 629.9L608.4 629.3L611.4 628.6L615.9 627.4L621.8 625.6L628.6 623.6L635.3 622.1L641.9 621L649 620L657.3 619.4L666.1 619L672.2 618.8L673.6 638.1L667.6 638.7L659.2 639.6L651.9 640.7L645.8 642L639.8 643.4L633.5 644.7L626.8 646.1L620.1 647.3L614.5 648.1L609.7 648.5L604.4 648.1L598.1 646.1L591.6 643.1L587.2 640.9z" fill="#1b4e73"/>
<path d="M589.1 632.1L594 631.6L600.7 630.8L605.7 629.9L608.4 629.3L611.4 628.6L615.9 627.4L621.8 625.6L628.6 623.6L635.3 622.1L641.9 621L649 620L657.3 619.4L666.1 619L672.2 618.8L673.5 637L667.5 637.6L659.1 638.5L651.7 639.5L645.6 640.7L639.5 642.1L633.3 643.5L626.5 644.9L619.9 646.2L614.3 646.9L609.6 647.4L604.5 647L598.3 645.2L591.8 642.4L587.3 640.3z" fill="#1f567d"/>
<path d="M589.1 632.1L594 631.6L600.7 630.8L605.7 629.9L608.4 629.3L611.4 628.6L615.9 627.4L621.8 625.6L628.6 623.6L635.3 622.1L641.9 621L649 620L657.3 619.4L666.1 619L672.2 618.8L673.5 635.8L667.4 636.4L659 637.3L651.5 638.3L645.3 639.5L639.3 640.9L633 642.2L626.2 643.7L619.6 645L614.1 645.8L609.5 646.3L604.6 646L598.4 644.3L591.9 641.7L587.4 639.8z" fill="#236089"/>
<path d="M589.1 632.1L594 631.6L600.7 630.8L605.7 629.9L608.4 629.3L611.4 628.6L615.9 627.4L621.8 625.6L628.6 623.6L635.3 622.1L641.9 621L649 620L657.3 619.4L666.1 619L672.2 618.8L673.4 634.7L667.3 635.3L658.9 636.1L651.4 637.1L645.1 638.3L639 639.6L632.7 641L625.9 642.5L619.4 643.8L613.9 644.7L609.5 645.1L604.6 644.9L598.6 643.4L592.1 641.1L587.5 639.3z" fill="#276994"/>
<path d="M589.1 632.1L594 631.6L600.7 630.8L605.7 629.9L608.4 629.3L611.4 628.6L615.9 627.4L621.8 625.6L628.6 623.6L635.3 622.1L641.9 621L649 620L657.3 619.4L666.1 619L672.2 618.8L673.3 633.6L667.2 634.1L658.8 634.9L651.2 635.8L644.9 637L638.7 638.4L632.4 639.7L625.6 641.3L619.1 642.7L613.7 643.5L609.4 644L604.7 643.8L598.7 642.5L592.2 640.4L587.6 638.8z" fill="#2b73a0"/>
<path d="M589.1 632.1L594 631.6L600.7 630.8L605.7 629.9L608.4 629.3L611.4 628.6L615.9 627.4L621.8 625.6L628.6 623.6L635.3 622.1L641.9 621L649 620L657.3 619.4L666.1 619L672.2 618.8L673.2 632.4L667.1 632.9L658.7 633.7L651 634.6L644.7 635.8L638.5 637.1L632.1 638.5L625.4 640.1L618.9 641.5L613.6 642.4L609.3 642.9L604.8 642.7L598.9 641.6L592.3 639.7L587.7 638.3z" fill="#307eab"/>
<path d="M589.1 632.1L594 631.6L600.7 630.8L605.7 629.9L608.4 629.3L611.4 628.6L615.9 627.4L621.8 625.6L628.6 623.6L635.3 622.1L641.9 621L649 620L657.3 619.4L666.1 619L672.2 618.8L673.1 631.3L667.1 631.8L658.6 632.5L650.9 633.4L644.4 634.6L638.2 635.9L631.8 637.3L625.1 638.9L618.6 640.3L613.4 641.2L609.2 641.7L604.9 641.7L599 640.7L592.5 639L587.8 637.8z" fill="#378bb8"/>
<path d="M589.1 632.1L594 631.6L600.7 630.8L605.7 629.9L608.4 629.3L611.4 628.6L615.9 627.4L621.8 625.6L628.6 623.6L635.3 622.1L641.9 621L649 620L657.3 619.4L666.1 619L672.2 618.8L673 630.2L667 630.6L658.5 631.3L650.7 632.2L644.2 633.3L637.9 634.6L631.5 636L624.8 637.7L618.4 639.1L613.2 640.1L609.1 640.6L604.9 640.6L599.2 639.8L592.6 638.4L587.9 637.3z" fill="#3e97c4"/>
<path d="M589.1 632.1L594 631.6L600.7 630.8L605.7 629.9L608.4 629.3L611.4 628.6L615.9 627.4L621.8 625.6L628.6 623.6L635.3 622.1L641.9 621L649 620L657.3 619.4L666.1 619L672.2 618.8L673 629L666.9 629.5L658.3 630.1L650.5 631L644 632.1L637.7 633.4L631.2 634.8L624.5 636.4L618.1 638L613 638.9L609.1 639.5L605 639.5L599.3 638.9L592.8 637.7L588.1 636.7z" fill="#46a4d1"/>
<path d="M589.1 632.1L594 631.6L600.7 630.8L605.7 629.9L608.4 629.3L611.4 628.6L615.9 627.4L621.8 625.6L628.6 623.6L635.3 622.1L641.9 621L649 620L657.3 619.4L666.1 619L672.2 618.8L672.9 627.9L666.8 628.3L658.2 628.9L650.4 629.8L643.7 630.8L637.4 632.1L630.9 633.5L624.2 635.2L617.9 636.8L612.8 637.8L609 638.3L605.1 638.5L599.5 638L592.9 637L588.2 636.2z" fill="#4db1dd"/>
<path d="M589.1 632.1L594 631.6L600.7 630.8L605.7 629.9L608.4 629.3L611.4 628.6L615.9 627.4L621.8 625.6L628.6 623.6L635.3 622.1L641.9 621L649 620L657.3 619.4L666.1 619L672.2 618.8L672.8 626.8L666.7 627.1L658.1 627.7L650.2 628.6L643.5 629.6L637.1 630.9L630.7 632.3L623.9 634L617.6 635.6L612.6 636.6L608.9 637.2L605.1 637.4L599.6 637.1L593.1 636.3L588.3 635.7z" fill="#55bde5"/>
<path d="M589.1 632.1L594 631.6L600.7 630.8L605.7 629.9L608.4 629.3L611.4 628.6L615.9 627.4L621.8 625.6L628.6 623.6L635.3 622.1L641.9 621L649 620L657.3 619.4L666.1 619L672.2 618.8L672.7 625.6L666.6 626L658 626.5L650 627.3L643.3 628.4L636.9 629.6L630.4 631L623.6 632.8L617.4 634.5L612.5 635.5L608.8 636.1L605.2 636.3L599.8 636.2L593.2 635.6L588.4 635.2z" fill="#5ec8ed"/>
<path d="M589.1 632.1L594 631.6L600.7 630.8L605.7 629.9L608.4 629.3L611.4 628.6L615.9 627.4L621.8 625.6L628.6 623.6L635.3 622.1L641.9 621L649 620L657.3 619.4L666.1 619L672.2 618.8L672.6 624.5L666.5 624.8L657.9 625.4L649.9 626.1L643 627.1L636.6 628.3L630.1 629.8L623.3 631.6L617.1 633.3L612.3 634.3L608.8 634.9L605.3 635.2L599.9 635.3L593.3 635L588.5 634.7z" fill="#66d4f4"/>
<path d="M589.1 632.1L594 631.6L600.7 630.8L605.7 629.9L608.4 629.3L611.4 628.6L615.9 627.4L621.8 625.6L628.6 623.6L635.3 622.1L641.9 621L649 620L657.3 619.4L666.1 619L672.2 618.8L672.5 623.4L666.4 623.7L657.8 624.2L649.7 624.9L642.8 625.9L636.3 627.1L629.8 628.5L623 630.4L616.9 632.1L612.1 633.2L608.7 633.8L605.4 634.2L600.1 634.4L593.5 634.3L588.6 634.2z" fill="#6eddfa"/>
<path d="M589.1 632.1L594 631.6L600.7 630.8L605.7 629.9L608.4 629.3L611.4 628.6L615.9 627.4L621.8 625.6L628.6 623.6L635.3 622.1L641.9 621L649 620L657.3 619.4L666.1 619L672.2 618.8L672.5 622.2L666.4 622.5L657.7 623L649.5 623.7L642.6 624.7L636.1 625.8L629.5 627.3L622.7 629.2L616.6 631L611.9 632L608.6 632.7L605.4 633.1L600.2 633.5L593.6 633.6L588.7 633.7z" fill="#74e2fc"/>
<path d="M589.1 632.1L594 631.6L600.7 630.8L605.7 629.9L608.4 629.3L611.4 628.6L615.9 627.4L621.8 625.6L628.6 623.6L635.3 622.1L641.9 621L649 620L657.3 619.4L666.1 619L672.2 618.8L672.4 621.1L666.3 621.4L657.5 621.8L649.4 622.5L642.3 623.4L635.8 624.6L629.2 626L622.4 628L616.4 629.8L611.7 630.9L608.5 631.5L605.5 632L600.4 632.6L593.8 632.9L588.8 633.1z" fill="#7be7fd"/>
<path d="M589.1 632.1L594 631.6L600.7 630.8L605.7 629.9L608.4 629.3L611.4 628.6L615.9 627.4L621.8 625.6L628.6 623.6L635.3 622.1L641.9 621L649 620L657.3 619.4L666.1 619L672.2 618.8L672.3 620L666.2 620.2L657.4 620.6L649.2 621.3L642.1 622.2L635.6 623.3L628.9 624.8L622.1 626.8L616.1 628.6L611.6 629.8L608.4 630.4L605.6 631L600.5 631.7L593.9 632.3L588.9 632.6z" fill="#81ecfe"/>
<ellipse cx="673" cy="629.6" rx="6.6" ry="10.8" transform="rotate(6 673 629.6)" fill="#66ccff"/><ellipse cx="673" cy="629.6" rx="3.1" ry="4.9" transform="rotate(6 673 629.6)" fill="#b98a2e"/>
<g transform="translate(736 642.4) rotate(-15.1)">
<path d="M0 -6.9L43.1 -6.9A3.8 6.9 0 0 1 43.1 6.9L0 6.9A3.8 6.9 0 0 1 0 -6.9z" fill="url(#cg1)"/>
<path d="M-2.3 -5.1L45 -5.8" stroke="#3e2c00" stroke-opacity="0.8" stroke-width="0.75" fill="none"/>
<path d="M-3.1 -3L46 -3.7" stroke="#3e2c00" stroke-opacity="0.8" stroke-width="0.75" fill="none"/>
<path d="M-3.4 -1L46.4 -1.7" stroke="#3e2c00" stroke-opacity="0.8" stroke-width="0.75" fill="none"/>
<path d="M-3.4 1L46.5 0.3" stroke="#3e2c00" stroke-opacity="0.8" stroke-width="0.75" fill="none"/>
<path d="M-3.1 3L46.3 2.3" stroke="#3e2c00" stroke-opacity="0.8" stroke-width="0.75" fill="none"/>
<path d="M-2.3 5.1L45.7 4.4" stroke="#3e2c00" stroke-opacity="0.8" stroke-width="0.75" fill="none"/>
<ellipse cx="43.1" cy="0" rx="3.8" ry="6.9" fill="#dcae40"/>
<ellipse cx="43.1" cy="0" rx="2.1" ry="4.1" fill="#c99a2e"/>
</g>
<g transform="translate(778 653) rotate(31.3)">
<path d="M0 -7.2L43.1 -7.2A4 7.2 0 0 1 43.1 7.2L0 7.2A4 7.2 0 0 1 0 -7.2z" fill="url(#cg2)"/>
<path d="M-2.4 -5.3L45.1 -6" stroke="#3e2c00" stroke-opacity="0.8" stroke-width="0.75" fill="none"/>
<path d="M-3.2 -3.2L46.1 -3.9" stroke="#3e2c00" stroke-opacity="0.8" stroke-width="0.75" fill="none"/>
<path d="M-3.6 -1.1L46.6 -1.8" stroke="#3e2c00" stroke-opacity="0.8" stroke-width="0.75" fill="none"/>
<path d="M-3.6 1.1L46.7 0.4" stroke="#3e2c00" stroke-opacity="0.8" stroke-width="0.75" fill="none"/>
<path d="M-3.2 3.2L46.5 2.5" stroke="#3e2c00" stroke-opacity="0.8" stroke-width="0.75" fill="none"/>
<path d="M-2.4 5.3L45.9 4.6" stroke="#3e2c00" stroke-opacity="0.8" stroke-width="0.75" fill="none"/>
<ellipse cx="43.1" cy="0" rx="4" ry="7.2" fill="#dcae40"/>
<ellipse cx="43.1" cy="0" rx="2.2" ry="4.3" fill="#c99a2e"/>
</g></g>
<g style="opacity:.999"><text transform="translate(270.3 388) scale(0.95 1)" font-family="'Liberation Sans', sans-serif" font-size="20.4" fill="#000" stroke="#000" stroke-width="0.25">jacket</text>
<line x1="288.3" y1="394" x2="288.3" y2="468" stroke="#1a1a1a" stroke-width="1.4"/>
<text transform="translate(506 426.5) scale(0.95 1)" font-family="'Liberation Sans', sans-serif" font-size="20.4" fill="#000" stroke="#000" stroke-width="0.25">shield</text>
<line x1="529.2" y1="432.3" x2="529.2" y2="506" stroke="#1a1a1a" stroke-width="1.4"/>
<text transform="translate(583 475.2) scale(0.95 1)" font-family="'Liberation Sans', sans-serif" font-size="20.4" fill="#000" stroke="#000" stroke-width="0.25">tape</text>
<line x1="599" y1="482" x2="599" y2="517" stroke="#1a1a1a" stroke-width="1.4"/>
<text transform="translate(645.5 423.5) scale(0.95 1)" font-family="'Liberation Sans', sans-serif" font-size="20.4" fill="#000" stroke="#000" stroke-width="0.25">core</text>
<line x1="662.9" y1="429" x2="662.9" y2="529" stroke="#1a1a1a" stroke-width="1.4"/>
<text transform="translate(709.3 709.7) scale(0.95 1)" font-family="'Liberation Sans', sans-serif" font-size="20.4" fill="#000" stroke="#000" stroke-width="0.25">conductor</text>
<line x1="749.4" y1="641" x2="749.4" y2="691.4" stroke="#1a1a1a" stroke-width="1.4"/>
<text transform="matrix(1 0.0966 -0.05 1.05 137 529.5)" font-family="'Liberation Sans', sans-serif" font-size="19.1" fill="#0a0a0a" xml:space="preserve" style="white-space:pre">RAWHAND    <tspan dx="-0.7">CABLE</tspan></text></g>
</svg>
</body></html>
